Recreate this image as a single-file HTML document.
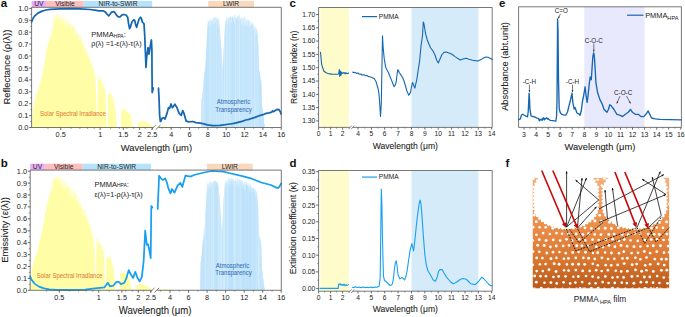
<!DOCTYPE html>
<html><head><meta charset="utf-8"><style>
html,body{margin:0;padding:0;background:#fff;width:685px;height:317px;overflow:hidden}
svg{display:block}
text{font-family:"Liberation Sans",sans-serif}
</style></head><body>
<svg width="685" height="317" viewBox="0 0 685 317" font-family="Liberation Sans, sans-serif"><rect x="31.6" y="0.9" width="14.5" height="6.4" fill="#eaabfd" />
<text x="38.8" y="6.3" font-size="6.7" text-anchor="middle" fill="#222" >UV</text>
<rect x="46.1" y="0.9" width="37.7" height="6.4" fill="#fdbebe" />
<text x="65" y="6.3" font-size="6.7" text-anchor="middle" fill="#222" >Visible</text>
<rect x="83.8" y="0.9" width="68.4" height="6.4" fill="#b5e3fe" />
<text x="118" y="6.3" font-size="6.7" text-anchor="middle" fill="#222" >NIR-to-SWIR</text>
<rect x="208.2" y="0.9" width="45.8" height="6.4" fill="#fad8bd" />
<text x="231.1" y="6.3" font-size="6.7" text-anchor="middle" fill="#222" >LWIR</text>
<path d="M29.6 127.5 L30.6 127.5 L31.3 126.3 L32 125.1 L32.7 115.4 L33.4 106.1 L34 103.5 L34.5 101.4 L35.1 99.1 L35.6 95.9 L36.2 94 L36.7 93.5 L37.3 90.7 L37.9 88.9 L38.4 88.6 L38.9 85.8 L39.4 84.8 L39.9 82.2 L40.4 80.2 L41 76.6 L41.6 75.4 L42.1 73.7 L42.7 70.4 L43.2 68.7 L43.8 65.3 L44.3 60.2 L44.9 59.3 L45.4 55.6 L46 51.3 L46.5 47.1 L47.1 48 L47.7 44 L48.3 42.7 L48.8 41 L49.4 38.1 L49.9 36.9 L50.5 32.3 L51 32.1 L51.6 28.2 L52.1 28.5 L52.8 25.1 L53.4 17.7 L54 14.7 L54.6 14.6 L55.1 18.2 L55.6 14.6 L56.1 15.1 L56.7 12.6 L57.2 13.2 L57.7 12.8 L58.3 12.8 L58.9 14.4 L59.4 14.6 L60 16.6 L60.5 15.7 L61 17.4 L61.5 17.2 L62 18.3 L62.5 16.8 L63 14.3 L63.5 18.4 L64 19.3 L64.5 19.5 L65.1 18.1 L65.6 19.4 L66.1 17.2 L66.6 21.1 L67.2 20.2 L67.7 19.2 L68.2 18.6 L68.8 23.4 L69.4 24.7 L70 20.5 L70.5 24.9 L71.1 23.4 L71.6 22.7 L72.1 24 L72.7 27 L73.2 28.2 L73.7 24.6 L74.2 28 L74.7 25.8 L75.2 29.7 L75.8 28.7 L76.3 32.2 L76.9 33.5 L77.4 32.1 L78 35.3 L78.5 32.9 L79 32.6 L79.6 35.9 L80.1 34.2 L80.7 35.8 L81.2 37.6 L81.7 39.3 L82.2 38.2 L82.7 38.6 L83.3 44.1 L84 43.8 L84.6 48.4 L85.3 48.7 L86 47.2 L86.6 48.9 L87.2 50.6 L87.7 52.4 L88.3 53.6 L88.8 54.9 L89.4 56.5 L89.9 59.1 L90.5 59 L91.1 60.3 L91.6 62.7 L92.1 62.8 L92.7 64.7 L93.2 68.4 L93.7 68.7 L94.2 70.5 L95.1 73.8 L96.1 91.6 L96.7 118 L97.6 112.9 L98.2 75.4 L99 75.1 L99.6 75 L100.2 77.8 L100.8 78.6 L101.3 80.3 L101.9 80.7 L102.4 82.7 L103 84 L103.5 83.6 L104 84.9 L104.5 87.4 L105 89.1 L105.6 97.4 L106.1 118 L106.4 127.5 L107 127.5 L107.7 127.5 L108 93.1 L108.5 92.8 L109.1 93 L109.6 93.1 L110.1 93.3 L110.6 93.9 L111.2 93.5 L111.7 93.8 L112.2 94.6 L112.7 95.4 L113.3 98.2 L113.8 100.4 L114.4 103.1 L115 106.2 L115.6 109.9 L116.2 121.5 L116.7 127.5 L117.2 127.5 L117.8 127.5 L118.3 127.5 L118.9 127.5 L119.4 127.5 L119.9 127.5 L120.5 127.5 L121 127.5 L121.6 109.4 L122.2 109.1 L122.8 109 L123.4 108.9 L124 108.1 L124.6 108.8 L125.2 109.2 L125.8 110.2 L126.4 110.3 L127 111.1 L127.6 111.2 L128.2 111.9 L128.8 112.7 L129.4 113.5 L130 113.8 L130.7 115.7 L131.4 117.8 L132.3 126.3 L132.9 126.4 L133.4 126.5 L134 126.7 L134.5 126.8 L135.1 126.9 L135.6 127 L136.1 127.1 L136.6 127.3 L137.2 127.4 L137.7 127.5 L138.3 122.7 L138.8 122.4 L139.4 122.1 L140 121.7 L140.6 121.4 L141.1 120.9 L141.7 120.8 L142.3 121 L142.9 121 L143.4 121.2 L144 121.5 L144.6 121.6 L145.1 121.8 L145.7 122.1 L146.2 122.3 L146.8 122.6 L147.3 122.9 L147.9 123.1 L148.4 123.4 L148.9 123.7 L149.5 124 L150.1 124.4 L150.7 124.8 L151.3 125.1 L151.9 125.7 L152.4 127.5 L152.4 127.5 Z" fill="#fffed2" stroke="none" />
<path d="M29.6 127.5 L30.6 127.5 L31.3 126.3 L32 125.1 L32.7 116.4 L33.4 107.8 L34 104.5 L34.5 101.6 L35.1 99.8 L35.6 99 L36.2 95.6 L36.7 94.2 L37.3 92.7 L37.9 91 L38.4 89.2 L38.9 89.7 L39.4 84.7 L39.9 82.3 L40.4 84.4 L41 81.9 L41.6 80.3 L42.1 75.1 L42.7 75.8 L43.2 73.5 L43.8 66.2 L44.3 66.5 L44.9 64.2 L45.4 60 L46 56 L46.5 51.2 L47.1 49.3 L47.7 46 L48.3 42.3 L48.8 44.6 L49.4 39.8 L49.9 42.5 L50.5 33.2 L51 39.4 L51.6 35.3 L52.1 35.6 L52.8 32.5 L53.4 29.6 L54 23.1 L54.6 16.3 L55.1 23.9 L55.6 16.9 L56.1 17.7 L56.7 21.3 L57.2 19.2 L57.7 18.1 L58.3 24.3 L58.9 20.8 L59.4 18 L60 17.2 L60.5 24.4 L61 20.3 L61.5 24 L62 19.5 L62.5 18 L63 22.1 L63.5 25.5 L64 18.6 L64.5 26 L65.1 27.9 L65.6 27.1 L66.1 27.7 L66.6 19.4 L67.2 26.6 L67.7 29.6 L68.2 21.4 L68.8 24.4 L69.4 24.9 L70 28.2 L70.5 27.7 L71.1 28.8 L71.6 32.5 L72.1 25.1 L72.7 26.2 L73.2 27.5 L73.7 28.1 L74.2 28.1 L74.7 37.7 L75.2 37.1 L75.8 30.3 L76.3 35.2 L76.9 34.2 L77.4 35.1 L78 36.2 L78.5 39.8 L79 40.1 L79.6 38.8 L80.1 38 L80.7 40.1 L81.2 39.1 L81.7 43.8 L82.2 46 L82.7 43.9 L83.3 43.2 L84 46 L84.6 49.5 L85.3 52 L86 53.9 L86.6 52.1 L87.2 56.7 L87.7 56.6 L88.3 56.5 L88.8 57.4 L89.4 59.6 L89.9 62.4 L90.5 61.9 L91.1 65.2 L91.6 65 L92.1 65.2 L92.7 68.7 L93.2 71.2 L93.7 69.1 L94.2 72.8 L95.1 77.3 L96.1 94.9 L96.7 118.9 L97.6 113.7 L98.2 79.8 L99 78.9 L99.6 77.5 L100.2 79.8 L100.8 79.3 L101.3 83.7 L101.9 84.1 L102.4 86.3 L103 86.9 L103.5 87.5 L104 88.9 L104.5 89.3 L105 88.6 L105.6 99.5 L106.1 118 L106.4 127.5 L107 127.5 L107.7 127.5 L108 93.5 L108.5 95.8 L109.1 93.4 L109.6 93.7 L110.1 93.9 L110.6 96.7 L111.2 94.5 L111.7 94.1 L112.2 97 L112.7 96.5 L113.3 100.6 L113.8 102 L114.4 105.3 L115 108.5 L115.6 110.7 L116.2 121.5 L116.7 127.5 L117.2 127.5 L117.8 127.5 L118.3 127.5 L118.9 127.5 L119.4 127.5 L119.9 127.5 L120.5 127.5 L121 127.5 L121.6 111.1 L122.2 109.4 L122.8 110.5 L123.4 109.7 L124 109.8 L124.6 109.1 L125.2 110.8 L125.8 111.5 L126.4 110.5 L127 111.4 L127.6 112.3 L128.2 113.3 L128.8 113 L129.4 113.5 L130 114.1 L130.7 116.6 L131.4 118.7 L132.3 126.3 L132.9 126.4 L133.4 126.5 L134 126.7 L134.5 126.8 L135.1 126.9 L135.6 127 L136.1 127.1 L136.6 127.3 L137.2 127.4 L137.7 127.5 L138.3 122.7 L138.8 122.4 L139.4 122.1 L140 121.7 L140.6 121.6 L141.1 121.3 L141.7 121 L142.3 121.1 L142.9 121.3 L143.4 121.3 L144 121.7 L144.6 121.6 L145.1 121.8 L145.7 122.1 L146.2 122.3 L146.8 122.6 L147.3 122.9 L147.9 123.1 L148.4 123.4 L148.9 123.7 L149.5 124 L150.1 124.4 L150.7 124.8 L151.3 125.1 L151.9 125.7 L152.4 127.5 L152.4 127.5 Z" fill="#fffea6" stroke="none" />
<path d="M152.4 127.5 L160.2 126.8 L164.8 126.5 L167.5 126.7 L170.3 126.5 L174 127 L176.7 127.5 Z" fill="#fffea6" stroke="none" />
<path d="M201 127.5 L201.6 100.1 L202.4 94.2 L203.1 87 L203.8 77.5 L204.4 73.7 L205.1 67.2 L206 57.1 L206.5 45.6 L207 33.5 L207.7 20.9 L208.2 20.5 L208.8 21.2 L209.3 22.3 L209.9 18.1 L210.4 17.5 L210.9 20.9 L211.5 21.6 L212 19.2 L212.5 18.6 L213 20 L213.5 17 L214 17.3 L214.5 16.8 L215 18.8 L215.5 17.1 L216 16.6 L216.5 18.9 L217 20.3 L217.7 16.9 L218.3 19.4 L218.9 18 L219.8 28.6 L220.5 37.8 L221.2 47.2 L221.8 57.2 L222.4 66.8 L222.6 91.8 L222.7 68.2 L223.7 47.6 L224.2 36 L224.8 26.1 L225.4 21.5 L225.9 19.6 L226.5 15.9 L227 20.3 L227.5 17.2 L228 17.6 L228.5 16.6 L229 18.4 L229.6 18.1 L230.1 16.3 L230.6 15.9 L231.2 17.2 L231.7 18 L232.2 15.4 L232.8 17.3 L233.3 18.6 L233.9 15.8 L234.4 14.5 L234.9 14.5 L235.5 17.2 L236 17 L236.6 18.6 L237.2 18.1 L237.7 14.8 L238.3 14.6 L238.8 15.1 L239.4 14.8 L240 17.7 L240.5 18.8 L241 19.3 L241.6 16 L242.1 19.6 L242.6 16.8 L243.1 17.6 L243.7 19.6 L244.2 16.3 L244.7 16.6 L245.2 20.9 L245.8 18.2 L246.3 18.8 L246.8 20.3 L247.3 21.1 L247.8 17.7 L248.4 19.8 L248.9 20.6 L249.4 21.1 L249.9 19.9 L250.5 22.2 L251 24.4 L251.5 22 L252 23.4 L252.6 21.7 L253.1 23.1 L253.6 25.7 L254.1 23.4 L254.6 27.9 L255.2 28.5 L255.7 24.9 L256.2 29.7 L256.8 27.4 L257.3 29.9 L257.8 37.7 L258.3 43.7 L258.9 68.8 L259.4 71.3 L259.9 74.3 L260.4 75.5 L260.9 79.3 L261.4 82.4 L262 104.3 L264.7 127.5 Z" fill="#d8eefc" stroke="none" />
<clipPath id="atmc0"><path d="M201 127.5 L201.6 100.1 L202.4 94.2 L203.1 88.3 L203.8 79.9 L204.4 73.3 L205.1 70.6 L206 58.3 L206.5 49.5 L207 38 L207.7 25.8 L208.2 21.8 L208.8 26.1 L209.3 25.8 L209.9 21.2 L210.4 27.9 L210.9 25.4 L211.5 20 L212 27.7 L212.5 19.8 L213 21.5 L213.5 25.2 L214 23.9 L214.5 23.3 L215 24.1 L215.5 22.1 L216 20.6 L216.5 19.1 L217 17.9 L217.7 24.5 L218.3 25.1 L218.9 23.3 L219.8 33 L220.5 39.9 L221.2 49.6 L221.8 60.2 L222.4 72.6 L222.6 91.8 L222.7 68.2 L223.7 51.3 L224.2 39 L224.8 33.3 L225.4 25.3 L225.9 20.9 L226.5 21.3 L227 22.4 L227.5 24.5 L228 20 L228.5 24.7 L229 17.1 L229.6 18.4 L230.1 16.4 L230.6 16.6 L231.2 23.3 L231.7 22.8 L232.2 17.3 L232.8 17.3 L233.3 19.6 L233.9 22.9 L234.4 23.7 L234.9 23 L235.5 21.4 L236 16.9 L236.6 19.5 L237.2 17.5 L237.7 21 L238.3 21.5 L238.8 17.9 L239.4 18.4 L240 23.9 L240.5 16.6 L241 24.5 L241.6 25.7 L242.1 26.5 L242.6 21.1 L243.1 23 L243.7 23.5 L244.2 24.3 L244.7 27.9 L245.2 25.2 L245.8 21.7 L246.3 27.4 L246.8 24 L247.3 25.4 L247.8 26.9 L248.4 20.2 L248.9 27.8 L249.4 27 L249.9 25.7 L250.5 26.2 L251 25.9 L251.5 23.9 L252 27.6 L252.6 23.5 L253.1 28.4 L253.6 30.3 L254.1 29 L254.6 30.6 L255.2 34.7 L255.7 34.6 L256.2 28.2 L256.8 34.7 L257.3 33.6 L257.8 36.5 L258.3 46.8 L258.9 69.2 L259.4 71 L259.9 75.8 L260.4 80.1 L260.9 79.9 L261.4 84.7 L262 104.3 L264.7 127.5 Z"/></clipPath>
<path d="M201 127.5 L201.6 100.1 L202.4 94.2 L203.1 88.3 L203.8 79.9 L204.4 73.3 L205.1 70.6 L206 58.3 L206.5 49.5 L207 38 L207.7 25.8 L208.2 21.8 L208.8 26.1 L209.3 25.8 L209.9 21.2 L210.4 27.9 L210.9 25.4 L211.5 20 L212 27.7 L212.5 19.8 L213 21.5 L213.5 25.2 L214 23.9 L214.5 23.3 L215 24.1 L215.5 22.1 L216 20.6 L216.5 19.1 L217 17.9 L217.7 24.5 L218.3 25.1 L218.9 23.3 L219.8 33 L220.5 39.9 L221.2 49.6 L221.8 60.2 L222.4 72.6 L222.6 91.8 L222.7 68.2 L223.7 51.3 L224.2 39 L224.8 33.3 L225.4 25.3 L225.9 20.9 L226.5 21.3 L227 22.4 L227.5 24.5 L228 20 L228.5 24.7 L229 17.1 L229.6 18.4 L230.1 16.4 L230.6 16.6 L231.2 23.3 L231.7 22.8 L232.2 17.3 L232.8 17.3 L233.3 19.6 L233.9 22.9 L234.4 23.7 L234.9 23 L235.5 21.4 L236 16.9 L236.6 19.5 L237.2 17.5 L237.7 21 L238.3 21.5 L238.8 17.9 L239.4 18.4 L240 23.9 L240.5 16.6 L241 24.5 L241.6 25.7 L242.1 26.5 L242.6 21.1 L243.1 23 L243.7 23.5 L244.2 24.3 L244.7 27.9 L245.2 25.2 L245.8 21.7 L246.3 27.4 L246.8 24 L247.3 25.4 L247.8 26.9 L248.4 20.2 L248.9 27.8 L249.4 27 L249.9 25.7 L250.5 26.2 L251 25.9 L251.5 23.9 L252 27.6 L252.6 23.5 L253.1 28.4 L253.6 30.3 L254.1 29 L254.6 30.6 L255.2 34.7 L255.7 34.6 L256.2 28.2 L256.8 34.7 L257.3 33.6 L257.8 36.5 L258.3 46.8 L258.9 69.2 L259.4 71 L259.9 75.8 L260.4 80.1 L260.9 79.9 L261.4 84.7 L262 104.3 L264.7 127.5 Z" fill="#c3e5fb" stroke="none" />
<g clip-path="url(#atmc0)"><rect x="200.5" y="7.3" width="1.1" height="120.2" fill="#cbe8fc"/><rect x="202.6" y="7.3" width="1.2" height="120.2" fill="#d3ecfd"/><rect x="206.2" y="7.3" width="1.1" height="120.2" fill="#b9e0fa"/><rect x="210.4" y="7.3" width="0.6" height="120.2" fill="#d3ecfd"/><rect x="213.7" y="7.3" width="0.8" height="120.2" fill="#cbe8fc"/><rect x="216.4" y="7.3" width="0.5" height="120.2" fill="#d3ecfd"/><rect x="218.6" y="7.3" width="1.2" height="120.2" fill="#cbe8fc"/><rect x="221.5" y="7.3" width="0.9" height="120.2" fill="#d3ecfd"/><rect x="224.3" y="7.3" width="0.8" height="120.2" fill="#d8effd"/><rect x="226.6" y="7.3" width="0.9" height="120.2" fill="#d8effd"/><rect x="229.3" y="7.3" width="0.9" height="120.2" fill="#d3ecfd"/><rect x="232.5" y="7.3" width="0.8" height="120.2" fill="#b9e0fa"/><rect x="235.1" y="7.3" width="0.8" height="120.2" fill="#d8effd"/><rect x="237.1" y="7.3" width="0.4" height="120.2" fill="#cbe8fc"/><rect x="238.9" y="7.3" width="0.8" height="120.2" fill="#d8effd"/><rect x="241.6" y="7.3" width="0.6" height="120.2" fill="#d3ecfd"/><rect x="243.4" y="7.3" width="0.8" height="120.2" fill="#cbe8fc"/><rect x="246.4" y="7.3" width="0.5" height="120.2" fill="#cbe8fc"/><rect x="248.7" y="7.3" width="0.6" height="120.2" fill="#d3ecfd"/><rect x="250.9" y="7.3" width="0.7" height="120.2" fill="#d3ecfd"/><rect x="254" y="7.3" width="0.5" height="120.2" fill="#d8effd"/><rect x="255.3" y="7.3" width="0.9" height="120.2" fill="#cbe8fc"/><rect x="257.6" y="7.3" width="0.8" height="120.2" fill="#cbe8fc"/><rect x="259.5" y="7.3" width="1" height="120.2" fill="#b9e0fa"/><rect x="263.4" y="7.3" width="1" height="120.2" fill="#b9e0fa"/></g>
<text x="0" y="0" font-size="6.0" text-anchor="start" fill="#e27d38" stroke="#e27d38" stroke-width="0.05" transform="translate(40 116.2) scale(1 1.15)">Solar Spectral Irradiance</text>
<text x="0" y="0" font-size="6.0" text-anchor="middle" fill="#336fb3" stroke="#336fb3" stroke-width="0.05" transform="translate(233.5 103.8) scale(1 1.15)">Atmospheric</text>
<text x="0" y="0" font-size="6.0" text-anchor="middle" fill="#336fb3" stroke="#336fb3" stroke-width="0.05" transform="translate(233.5 111.5) scale(1 1.15)">Transparency</text>
<path d="M31.6 21.8 L33 18.5 L35 15.6 L38 13.1 L42 11.1 L46 10 L50 9.3 L60 8.8 L70 8.6 L80 8.8 L90 9.5 L95 10.2 L98.8 10.9 L103.5 10.9 L105.4 12.1 L107.3 14.5 L108.7 15.9 L110.2 14 L111.6 12.1 L113.9 11.6 L114.9 12.6 L116.3 14.9 L118.2 16.8 L120.1 16.8 L122 14.9 L124.4 14.5 L126.3 15.2 L127.7 17.3 L128.6 23.9 L129.6 28.7 L130.5 26.8 L131.9 22 L133.8 19.7 L134.8 20.6 L135.7 24.9 L136.7 27.3 L137.6 23.9 L139 19.2 L140.5 17.3 L141.4 18.3 L142.3 22 L143.3 23 L144 23.9 L144.7 35 L145.3 50 L146 67.5 L146.6 58 L148 47.6 L149 54 L150.5 45 L151.4 40 L151.9 50 L152 70 L152.2 92.5 L153.3 88" fill="none" stroke="#1667b2" stroke-width="1.75" stroke-linejoin="round" stroke-linecap="round" />
<path d="M158.5 88.2 L159.1 100 L159.6 115 L160.3 121.5 L161 121 L162 118.4 L163.5 117.7 L165 119 L167 113.4 L168.5 107.7 L169.6 108.4 L171 104 L172.4 107.7 L174.9 104.2 L177 107.7 L179.1 113.4 L181.2 115.5 L182.7 110.6 L184 113.4 L186.2 121.2 L189 121.9 L192.6 121.5 L196 122.6 L201.8 123.3 L207.5 124.8 L213 125.7 L220 125.3 L230 124 L234 123.4 L238 122.3 L242 121.3 L245.8 120 L249 119.4 L252 118.3 L255 117.4 L258.4 116 L262 114.8 L264 114.3 L266.3 113.4 L269 112.8 L271.8 112.1 L272.6 110.8 L273.4 111.6 L274.2 111.3 L276 110 L277.4 109.3 L279 109.7 L280.2 111.5 L281.1 114" fill="none" stroke="#1667b2" stroke-width="1.75" stroke-linejoin="round" stroke-linecap="round" />
<line x1="31.6" y1="7.3" x2="281.3" y2="7.3" stroke="#555" stroke-width="0.8" />
<line x1="281.3" y1="7.3" x2="281.3" y2="127.5" stroke="#555" stroke-width="0.8" />
<line x1="31.6" y1="7.3" x2="31.6" y2="127.5" stroke="#555" stroke-width="0.8" />
<line x1="31.6" y1="127.5" x2="152.8" y2="127.5" stroke="#555" stroke-width="0.8" />
<line x1="158.6" y1="127.5" x2="281.3" y2="127.5" stroke="#555" stroke-width="0.8" />
<line x1="151.2" y1="129.6" x2="155.8" y2="125.1" stroke="#555" stroke-width="0.8" />
<line x1="155.8" y1="129.6" x2="160.4" y2="125.1" stroke="#555" stroke-width="0.8" />
<line x1="29.2" y1="127.5" x2="31.6" y2="127.5" stroke="#555" stroke-width="0.9" />
<text x="28.4" y="130" font-size="7.3" text-anchor="end" fill="#222" >0.0</text>
<line x1="30.2" y1="121.5" x2="31.6" y2="121.5" stroke="#555" stroke-width="0.6" />
<line x1="29.2" y1="115.6" x2="31.6" y2="115.6" stroke="#555" stroke-width="0.9" />
<text x="28.4" y="118.1" font-size="7.3" text-anchor="end" fill="#222" >0.1</text>
<line x1="30.2" y1="109.6" x2="31.6" y2="109.6" stroke="#555" stroke-width="0.6" />
<line x1="29.2" y1="103.7" x2="31.6" y2="103.7" stroke="#555" stroke-width="0.9" />
<text x="28.4" y="106.2" font-size="7.3" text-anchor="end" fill="#222" >0.2</text>
<line x1="30.2" y1="97.7" x2="31.6" y2="97.7" stroke="#555" stroke-width="0.6" />
<line x1="29.2" y1="91.8" x2="31.6" y2="91.8" stroke="#555" stroke-width="0.9" />
<text x="28.4" y="94.3" font-size="7.3" text-anchor="end" fill="#222" >0.3</text>
<line x1="30.2" y1="85.8" x2="31.6" y2="85.8" stroke="#555" stroke-width="0.6" />
<line x1="29.2" y1="79.9" x2="31.6" y2="79.9" stroke="#555" stroke-width="0.9" />
<text x="28.4" y="82.4" font-size="7.3" text-anchor="end" fill="#222" >0.4</text>
<line x1="30.2" y1="73.9" x2="31.6" y2="73.9" stroke="#555" stroke-width="0.6" />
<line x1="29.2" y1="68" x2="31.6" y2="68" stroke="#555" stroke-width="0.9" />
<text x="28.4" y="70.5" font-size="7.3" text-anchor="end" fill="#222" >0.5</text>
<line x1="30.2" y1="62" x2="31.6" y2="62" stroke="#555" stroke-width="0.6" />
<line x1="29.2" y1="56" x2="31.6" y2="56" stroke="#555" stroke-width="0.9" />
<text x="28.4" y="58.5" font-size="7.3" text-anchor="end" fill="#222" >0.6</text>
<line x1="30.2" y1="50.1" x2="31.6" y2="50.1" stroke="#555" stroke-width="0.6" />
<line x1="29.2" y1="44.1" x2="31.6" y2="44.1" stroke="#555" stroke-width="0.9" />
<text x="28.4" y="46.6" font-size="7.3" text-anchor="end" fill="#222" >0.7</text>
<line x1="30.2" y1="38.2" x2="31.6" y2="38.2" stroke="#555" stroke-width="0.6" />
<line x1="29.2" y1="32.2" x2="31.6" y2="32.2" stroke="#555" stroke-width="0.9" />
<text x="28.4" y="34.7" font-size="7.3" text-anchor="end" fill="#222" >0.8</text>
<line x1="30.2" y1="26.3" x2="31.6" y2="26.3" stroke="#555" stroke-width="0.6" />
<line x1="29.2" y1="20.3" x2="31.6" y2="20.3" stroke="#555" stroke-width="0.9" />
<text x="28.4" y="22.8" font-size="7.3" text-anchor="end" fill="#222" >0.9</text>
<line x1="30.2" y1="14.4" x2="31.6" y2="14.4" stroke="#555" stroke-width="0.6" />
<line x1="29.2" y1="8.4" x2="31.6" y2="8.4" stroke="#555" stroke-width="0.9" />
<text x="28.4" y="10.9" font-size="7.3" text-anchor="end" fill="#222" >1.0</text>
<line x1="60.7" y1="127.5" x2="60.7" y2="129.9" stroke="#555" stroke-width="0.9" />
<text x="60.7" y="137.1" font-size="7.3" text-anchor="middle" fill="#222" >0.5</text>
<line x1="100.2" y1="127.5" x2="100.2" y2="129.9" stroke="#555" stroke-width="0.9" />
<text x="100.2" y="137.1" font-size="7.3" text-anchor="middle" fill="#222" >1</text>
<line x1="123.3" y1="127.5" x2="123.3" y2="129.9" stroke="#555" stroke-width="0.9" />
<text x="123.3" y="137.1" font-size="7.3" text-anchor="middle" fill="#222" >1.5</text>
<line x1="139.7" y1="127.5" x2="139.7" y2="129.9" stroke="#555" stroke-width="0.9" />
<text x="139.7" y="137.1" font-size="7.3" text-anchor="middle" fill="#222" >2</text>
<line x1="152.2" y1="127.5" x2="152.2" y2="129.9" stroke="#555" stroke-width="0.9" />
<text x="152.2" y="137.1" font-size="7.3" text-anchor="middle" fill="#222" >2.5</text>
<line x1="171.2" y1="127.5" x2="171.2" y2="129.9" stroke="#555" stroke-width="0.9" />
<text x="171.2" y="137.1" font-size="7.3" text-anchor="middle" fill="#222" >4</text>
<line x1="189.5" y1="127.5" x2="189.5" y2="129.9" stroke="#555" stroke-width="0.9" />
<text x="189.5" y="137.1" font-size="7.3" text-anchor="middle" fill="#222" >6</text>
<line x1="207.9" y1="127.5" x2="207.9" y2="129.9" stroke="#555" stroke-width="0.9" />
<text x="207.9" y="137.1" font-size="7.3" text-anchor="middle" fill="#222" >8</text>
<line x1="226.2" y1="127.5" x2="226.2" y2="129.9" stroke="#555" stroke-width="0.9" />
<text x="226.2" y="137.1" font-size="7.3" text-anchor="middle" fill="#222" >10</text>
<line x1="244.6" y1="127.5" x2="244.6" y2="129.9" stroke="#555" stroke-width="0.9" />
<text x="244.6" y="137.1" font-size="7.3" text-anchor="middle" fill="#222" >12</text>
<line x1="262.9" y1="127.5" x2="262.9" y2="129.9" stroke="#555" stroke-width="0.9" />
<text x="262.9" y="137.1" font-size="7.3" text-anchor="middle" fill="#222" >14</text>
<line x1="281.2" y1="127.5" x2="281.2" y2="129.9" stroke="#555" stroke-width="0.9" />
<text x="281.2" y="137.1" font-size="7.3" text-anchor="middle" fill="#222" >16</text>
<line x1="48" y1="127.5" x2="48" y2="128.9" stroke="#555" stroke-width="0.6" />
<line x1="71.1" y1="127.5" x2="71.1" y2="128.9" stroke="#555" stroke-width="0.6" />
<line x1="79.9" y1="127.5" x2="79.9" y2="128.9" stroke="#555" stroke-width="0.6" />
<line x1="87.5" y1="127.5" x2="87.5" y2="128.9" stroke="#555" stroke-width="0.6" />
<line x1="94.2" y1="127.5" x2="94.2" y2="128.9" stroke="#555" stroke-width="0.6" />
<line x1="110.6" y1="127.5" x2="110.6" y2="128.9" stroke="#555" stroke-width="0.6" />
<line x1="119.4" y1="127.5" x2="119.4" y2="128.9" stroke="#555" stroke-width="0.6" />
<line x1="127" y1="127.5" x2="127" y2="128.9" stroke="#555" stroke-width="0.6" />
<line x1="133.7" y1="127.5" x2="133.7" y2="128.9" stroke="#555" stroke-width="0.6" />
<line x1="145.1" y1="127.5" x2="145.1" y2="128.9" stroke="#555" stroke-width="0.6" />
<line x1="162" y1="127.5" x2="162" y2="128.9" stroke="#555" stroke-width="0.6" />
<line x1="180.4" y1="127.5" x2="180.4" y2="128.9" stroke="#555" stroke-width="0.6" />
<line x1="198.7" y1="127.5" x2="198.7" y2="128.9" stroke="#555" stroke-width="0.6" />
<line x1="217" y1="127.5" x2="217" y2="128.9" stroke="#555" stroke-width="0.6" />
<line x1="235.4" y1="127.5" x2="235.4" y2="128.9" stroke="#555" stroke-width="0.6" />
<line x1="253.7" y1="127.5" x2="253.7" y2="128.9" stroke="#555" stroke-width="0.6" />
<line x1="272.1" y1="127.5" x2="272.1" y2="128.9" stroke="#555" stroke-width="0.6" />
<text x="0" y="0" font-size="9.4" text-anchor="middle" fill="#222" stroke="#222" stroke-width="0.08" transform="translate(156.4 151.1) scale(1 1.05)">Wavelength (μm)</text>
<text x="0" y="0" font-size="9.4" text-anchor="middle" fill="#222" stroke="#222" stroke-width="0.08" transform="translate(10 67.1) rotate(-90) scale(1 1.05)">Reflectance (ρ(λ))</text>
<text x="91.3" y="36.9" font-size="7.5" fill="#222">PMMA<tspan font-size="5.0" dy="0.6">HPA</tspan><tspan dy="-0.6">:</tspan></text>
<text x="91.3" y="46.2" font-size="7.2" text-anchor="start" fill="#222" >ρ(λ) =1-ε(λ)-τ(λ)</text>
<rect x="30.2" y="163.7" width="14.6" height="6.4" fill="#eaabfd" />
<text x="37.5" y="169.1" font-size="6.7" text-anchor="middle" fill="#222" >UV</text>
<rect x="44.8" y="163.7" width="37.7" height="6.4" fill="#fdbebe" />
<text x="63.7" y="169.1" font-size="6.7" text-anchor="middle" fill="#222" >Visible</text>
<rect x="82.5" y="163.7" width="68.4" height="6.4" fill="#b5e3fe" />
<text x="116.7" y="169.1" font-size="6.7" text-anchor="middle" fill="#222" >NIR-to-SWIR</text>
<rect x="206.9" y="163.7" width="45.8" height="6.4" fill="#fad8bd" />
<text x="229.8" y="169.1" font-size="6.7" text-anchor="middle" fill="#222" >LWIR</text>
<path d="M28.2 290.3 L29.2 290.3 L29.9 289.1 L30.6 287.9 L31.3 278.6 L32 268.8 L32.6 267 L33.1 263.8 L33.7 261.4 L34.2 259 L34.8 258.1 L35.3 256 L35.9 253.7 L36.5 251.4 L37 250.8 L37.5 249.6 L38 247 L38.5 243.9 L39 241.5 L39.6 239.3 L40.2 237 L40.7 234.2 L41.3 231.9 L41.8 231.2 L42.4 228.8 L42.9 223.4 L43.5 222.9 L44 218 L44.6 216 L45.1 213.3 L45.7 211.1 L46.3 205 L46.9 203.7 L47.4 202.6 L48 202 L48.5 195.9 L49.1 194.6 L49.6 195.1 L50.2 189.3 L50.7 188.5 L51.4 185 L52 183.7 L52.6 181.9 L53.2 177.1 L53.7 179.7 L54.2 179.1 L54.7 179.1 L55.3 176.9 L55.8 178.4 L56.3 175.4 L56.9 176 L57.5 175.1 L58 178.5 L58.6 177 L59.1 176.2 L59.6 175.9 L60.1 179.3 L60.6 178.9 L61.1 179.8 L61.6 178.3 L62.1 179.2 L62.6 177.6 L63.1 181.2 L63.7 177.9 L64.2 180.9 L64.7 183 L65.2 183 L65.8 180.4 L66.3 181.7 L66.8 185.5 L67.4 185.1 L68 186.9 L68.6 187.4 L69.1 185.8 L69.7 188.7 L70.2 188.5 L70.7 187 L71.3 187.8 L71.8 186.9 L72.3 189.2 L72.8 192.5 L73.3 188.9 L73.8 191.8 L74.4 190.4 L74.9 191.1 L75.5 194.7 L76 193.6 L76.6 193.6 L77.1 194.9 L77.6 198.1 L78.2 198.6 L78.7 196.9 L79.3 198.7 L79.8 202.9 L80.3 200.4 L80.8 202.8 L81.3 203 L81.9 206.5 L82.6 207.8 L83.2 210.5 L83.9 210 L84.6 209.3 L85.2 210.6 L85.8 211.7 L86.3 215.9 L86.9 214.6 L87.4 215.7 L88 220.5 L88.5 219.3 L89.1 223.2 L89.7 221.9 L90.2 224.7 L90.7 225.6 L91.3 229.2 L91.8 230.1 L92.3 231.9 L92.8 233.9 L93.7 238.9 L94.7 254.3 L95.3 280.8 L96.2 276 L96.8 236.9 L97.6 238.4 L98.2 239.2 L98.8 241.1 L99.4 240.8 L99.9 242.8 L100.5 243.8 L101 245.6 L101.6 245.3 L102.1 247.1 L102.6 248.6 L103.1 248.9 L103.6 251.1 L104.2 260.9 L104.7 280.7 L105 290.3 L105.6 290.3 L106.3 290.3 L106.6 256 L107.1 256.1 L107.7 255.6 L108.2 256 L108.7 257.2 L109.2 256.2 L109.8 256.5 L110.3 256.1 L110.8 256.5 L111.3 258.4 L111.9 261.6 L112.4 263.2 L113 266.5 L113.6 269.8 L114.2 272.5 L114.8 284.3 L115.3 290.3 L115.8 290.3 L116.4 290.3 L116.9 290.3 L117.5 290.3 L118 290.3 L118.5 290.3 L119.1 290.3 L119.6 290.3 L120.2 272.8 L120.8 272.2 L121.4 271.8 L122 272 L122.6 271.6 L123.2 272.1 L123.8 272.2 L124.4 272.9 L125 273.1 L125.6 274 L126.2 274.6 L126.8 274.7 L127.4 275.7 L128 275.8 L128.6 276.3 L129.3 278.8 L130 280.7 L130.9 289.1 L131.5 289.2 L132 289.3 L132.6 289.5 L133.1 289.6 L133.7 289.7 L134.2 289.8 L134.7 289.9 L135.2 290.1 L135.8 290.2 L136.3 290.3 L136.9 285.5 L137.4 285.2 L138 284.9 L138.6 284.5 L139.2 284.2 L139.7 283.9 L140.3 283.4 L140.9 283.8 L141.5 283.8 L142 284 L142.6 284.2 L143.2 284.4 L143.7 284.6 L144.3 284.9 L144.8 285.1 L145.4 285.4 L145.9 285.7 L146.5 285.9 L147 286.2 L147.5 286.5 L148.1 286.8 L148.7 287.2 L149.3 287.6 L149.9 287.9 L150.5 288.5 L151 290.3 L151 290.3 Z" fill="#fffed2" stroke="none" />
<path d="M28.2 290.3 L29.2 290.3 L29.9 289.1 L30.6 287.9 L31.3 279.3 L32 270.5 L32.6 267.2 L33.1 264.4 L33.7 262.6 L34.2 260.6 L34.8 257.8 L35.3 256.3 L35.9 256.7 L36.5 254.9 L37 254.3 L37.5 252.7 L38 250.6 L38.5 246.7 L39 243.4 L39.6 241.8 L40.2 240.3 L40.7 238.4 L41.3 236.2 L41.8 232.9 L42.4 232.9 L42.9 226.3 L43.5 224.4 L44 224.5 L44.6 221 L45.1 214 L45.7 211.3 L46.3 213.7 L46.9 204.6 L47.4 203.3 L48 204.8 L48.5 202.8 L49.1 197.2 L49.6 193.9 L50.2 193.3 L50.7 196.9 L51.4 190.8 L52 193.2 L52.6 188.2 L53.2 189.8 L53.7 178.7 L54.2 179.8 L54.7 177.3 L55.3 181.5 L55.8 179.8 L56.3 176.8 L56.9 182.7 L57.5 177.7 L58 180.4 L58.6 180 L59.1 186.5 L59.6 182.5 L60.1 181 L60.6 178.8 L61.1 183.4 L61.6 185.9 L62.1 186.7 L62.6 189.6 L63.1 189 L63.7 183.3 L64.2 182.6 L64.7 189.8 L65.2 190.6 L65.8 188.1 L66.3 192 L66.8 189.6 L67.4 187.3 L68 186.7 L68.6 185.7 L69.1 192.8 L69.7 196 L70.2 196.6 L70.7 192.7 L71.3 195.2 L71.8 198.5 L72.3 197.9 L72.8 196.3 L73.3 195 L73.8 196.6 L74.4 194 L74.9 194.9 L75.5 200.6 L76 204.3 L76.6 200.9 L77.1 200.4 L77.6 200.7 L78.2 202.4 L78.7 206.4 L79.3 204 L79.8 209.4 L80.3 203 L80.8 205.3 L81.3 207.9 L81.9 208.8 L82.6 214.4 L83.2 216 L83.9 217.4 L84.6 215.4 L85.2 212.1 L85.8 217.7 L86.3 218.8 L86.9 219.7 L87.4 219.5 L88 223.9 L88.5 226.7 L89.1 222.5 L89.7 227.8 L90.2 227.2 L90.7 229.7 L91.3 233.7 L91.8 235.6 L92.3 235.3 L92.8 234.2 L93.7 242.7 L94.7 255.2 L95.3 281.1 L96.2 277.2 L96.8 239.6 L97.6 239 L98.2 243.8 L98.8 245 L99.4 243 L99.9 244.5 L100.5 245.2 L101 245.6 L101.6 247.3 L102.1 251.6 L102.6 248.9 L103.1 250.7 L103.6 251.8 L104.2 260.8 L104.7 281.3 L105 290.3 L105.6 290.3 L106.3 290.3 L106.6 258.3 L107.1 258.8 L107.7 258.2 L108.2 259 L108.7 256.4 L109.2 257.5 L109.8 259.9 L110.3 257 L110.8 257.8 L111.3 260.5 L111.9 261.7 L112.4 264.4 L113 266.2 L113.6 269.8 L114.2 274.1 L114.8 284.3 L115.3 290.3 L115.8 290.3 L116.4 290.3 L116.9 290.3 L117.5 290.3 L118 290.3 L118.5 290.3 L119.1 290.3 L119.6 290.3 L120.2 272.7 L120.8 273.8 L121.4 272.2 L122 273.4 L122.6 272.5 L123.2 272.9 L123.8 272.5 L124.4 272.8 L125 274.5 L125.6 273.9 L126.2 274.5 L126.8 276.1 L127.4 276.7 L128 276.1 L128.6 277.9 L129.3 279.3 L130 281.1 L130.9 289.1 L131.5 289.2 L132 289.3 L132.6 289.5 L133.1 289.6 L133.7 289.7 L134.2 289.8 L134.7 289.9 L135.2 290.1 L135.8 290.2 L136.3 290.3 L136.9 285.5 L137.4 285.2 L138 284.9 L138.6 284.5 L139.2 284.3 L139.7 284.1 L140.3 284.2 L140.9 283.9 L141.5 284 L142 284.1 L142.6 284.3 L143.2 284.4 L143.7 284.6 L144.3 284.9 L144.8 285.1 L145.4 285.4 L145.9 285.7 L146.5 285.9 L147 286.2 L147.5 286.5 L148.1 286.8 L148.7 287.2 L149.3 287.6 L149.9 287.9 L150.5 288.5 L151 290.3 L151 290.3 Z" fill="#fffea6" stroke="none" />
<path d="M151 290.3 L158.9 289.6 L163.5 289.3 L166.3 289.5 L169.1 289.3 L172.8 289.8 L175.6 290.3 Z" fill="#fffea6" stroke="none" />
<path d="M200.1 290.3 L200.7 262.9 L201.5 257 L202.2 248.5 L202.9 241.6 L203.6 234.6 L204.3 230.1 L205.1 220.8 L205.6 209.4 L206.2 197.8 L206.9 182.3 L207.4 182.6 L208 185.6 L208.5 182.9 L209.1 183.9 L209.6 181.5 L210.2 179.7 L210.7 181.2 L211.3 183.2 L211.8 183.3 L212.3 182 L212.8 181.3 L213.3 181.6 L213.8 180.9 L214.3 181.3 L214.8 182.8 L215.3 179.2 L215.8 181.2 L216.3 183 L217 182.7 L217.6 179.3 L218.2 183.8 L219.1 191.3 L219.8 198.7 L220.5 210 L221.1 219.9 L221.7 229.7 L221.9 254.6 L222.1 232.5 L223 210.5 L223.6 201.9 L224.2 187.6 L224.8 182.7 L225.3 183 L225.9 182.3 L226.4 183.1 L226.9 181.1 L227.4 180 L227.9 181.1 L228.5 177 L229 179.3 L229.5 178.5 L230 176.8 L230.5 179.3 L231 177.8 L231.5 178.8 L232 178.1 L232.5 177.8 L233 178 L233.5 179.4 L234 181.5 L234.5 181.2 L235 180.8 L235.5 180.7 L236.1 177.7 L236.7 181.6 L237.2 177.8 L237.8 177 L238.4 179.2 L239 180.6 L239.5 178.5 L240.1 180.4 L240.6 178.7 L241.1 182.7 L241.6 180.1 L242.2 180.5 L242.7 181 L243.2 183.2 L243.8 184 L244.3 181.8 L244.8 181.5 L245.4 182.7 L245.9 180 L246.4 182.2 L247 184.8 L247.5 184.7 L248 181.1 L248.5 185.6 L249.1 183.4 L249.6 186.8 L250.1 183.8 L250.6 183.3 L251.2 185.6 L251.7 188 L252.2 186.1 L252.8 189 L253.3 188.7 L253.8 187.5 L254.4 187.7 L254.9 189.3 L255.4 189.3 L256 189.7 L256.5 191.6 L257 193.2 L257.6 199.7 L258.1 205.9 L258.6 230.2 L259.1 233.3 L259.7 236.6 L260.2 237.9 L260.7 240.4 L261.2 243.7 L261.8 267.1 L264.6 290.3 Z" fill="#d8eefc" stroke="none" />
<clipPath id="atmc162"><path d="M200.1 290.3 L200.7 262.9 L201.5 257 L202.2 249.7 L202.9 240.4 L203.6 238.2 L204.3 235.7 L205.1 222.3 L205.6 212.5 L206.2 202.1 L206.9 191.2 L207.4 191.7 L208 186.9 L208.5 189.1 L209.1 183.4 L209.6 190.6 L210.2 185.5 L210.7 186.2 L211.3 190.1 L211.8 184 L212.3 182.9 L212.8 189 L213.3 186.7 L213.8 181.5 L214.3 180.8 L214.8 183.9 L215.3 180.3 L215.8 188.4 L216.3 181.8 L217 183 L217.6 184.3 L218.2 185.8 L219.1 193 L219.8 204.9 L220.5 215.2 L221.1 223.4 L221.7 231.3 L221.9 254.6 L222.1 236 L223 215.5 L223.6 200.5 L224.2 193.1 L224.8 191.9 L225.3 190.2 L225.9 180.8 L226.4 179.9 L226.9 184.3 L227.4 183.5 L227.9 188 L228.5 187.1 L229 181.8 L229.5 182.5 L230 184.1 L230.5 187.1 L231 180.3 L231.5 182.2 L232 179.1 L232.5 184.7 L233 178.5 L233.5 187.7 L234 183.5 L234.5 184 L235 179.1 L235.5 180.6 L236.1 183 L236.7 187 L237.2 183.9 L237.8 181.4 L238.4 188.5 L239 185.4 L239.5 184.1 L240.1 181.1 L240.6 182.3 L241.1 188.5 L241.6 181.1 L242.2 185.3 L242.7 186.5 L243.2 184.1 L243.8 188.4 L244.3 190 L244.8 189.7 L245.4 188.8 L245.9 183.8 L246.4 182.7 L247 186.6 L247.5 185.7 L248 184.8 L248.5 191.6 L249.1 185.6 L249.6 191.6 L250.1 193 L250.6 185.4 L251.2 193.5 L251.7 189.2 L252.2 188 L252.8 188.3 L253.3 187.5 L253.8 192.3 L254.4 191.8 L254.9 196.5 L255.4 196.9 L256 190.3 L256.5 193.9 L257 194.3 L257.6 200.4 L258.1 208.8 L258.6 232.2 L259.1 236.9 L259.7 237.7 L260.2 239.1 L260.7 242.2 L261.2 245.7 L261.8 267.1 L264.6 290.3 Z"/></clipPath>
<path d="M200.1 290.3 L200.7 262.9 L201.5 257 L202.2 249.7 L202.9 240.4 L203.6 238.2 L204.3 235.7 L205.1 222.3 L205.6 212.5 L206.2 202.1 L206.9 191.2 L207.4 191.7 L208 186.9 L208.5 189.1 L209.1 183.4 L209.6 190.6 L210.2 185.5 L210.7 186.2 L211.3 190.1 L211.8 184 L212.3 182.9 L212.8 189 L213.3 186.7 L213.8 181.5 L214.3 180.8 L214.8 183.9 L215.3 180.3 L215.8 188.4 L216.3 181.8 L217 183 L217.6 184.3 L218.2 185.8 L219.1 193 L219.8 204.9 L220.5 215.2 L221.1 223.4 L221.7 231.3 L221.9 254.6 L222.1 236 L223 215.5 L223.6 200.5 L224.2 193.1 L224.8 191.9 L225.3 190.2 L225.9 180.8 L226.4 179.9 L226.9 184.3 L227.4 183.5 L227.9 188 L228.5 187.1 L229 181.8 L229.5 182.5 L230 184.1 L230.5 187.1 L231 180.3 L231.5 182.2 L232 179.1 L232.5 184.7 L233 178.5 L233.5 187.7 L234 183.5 L234.5 184 L235 179.1 L235.5 180.6 L236.1 183 L236.7 187 L237.2 183.9 L237.8 181.4 L238.4 188.5 L239 185.4 L239.5 184.1 L240.1 181.1 L240.6 182.3 L241.1 188.5 L241.6 181.1 L242.2 185.3 L242.7 186.5 L243.2 184.1 L243.8 188.4 L244.3 190 L244.8 189.7 L245.4 188.8 L245.9 183.8 L246.4 182.7 L247 186.6 L247.5 185.7 L248 184.8 L248.5 191.6 L249.1 185.6 L249.6 191.6 L250.1 193 L250.6 185.4 L251.2 193.5 L251.7 189.2 L252.2 188 L252.8 188.3 L253.3 187.5 L253.8 192.3 L254.4 191.8 L254.9 196.5 L255.4 196.9 L256 190.3 L256.5 193.9 L257 194.3 L257.6 200.4 L258.1 208.8 L258.6 232.2 L259.1 236.9 L259.7 237.7 L260.2 239.1 L260.7 242.2 L261.2 245.7 L261.8 267.1 L264.6 290.3 Z" fill="#c3e5fb" stroke="none" />
<g clip-path="url(#atmc162)"><rect x="199.7" y="170.1" width="1" height="120.2" fill="#cbe8fc"/><rect x="202.5" y="170.1" width="0.6" height="120.2" fill="#b9e0fa"/><rect x="205.2" y="170.1" width="0.6" height="120.2" fill="#d8effd"/><rect x="207.9" y="170.1" width="0.8" height="120.2" fill="#cbe8fc"/><rect x="210.9" y="170.1" width="0.8" height="120.2" fill="#d3ecfd"/><rect x="212.8" y="170.1" width="0.9" height="120.2" fill="#d8effd"/><rect x="215.6" y="170.1" width="1" height="120.2" fill="#b9e0fa"/><rect x="218.5" y="170.1" width="0.8" height="120.2" fill="#d8effd"/><rect x="220.6" y="170.1" width="1.2" height="120.2" fill="#d8effd"/><rect x="223.4" y="170.1" width="1.4" height="120.2" fill="#d8effd"/><rect x="227.2" y="170.1" width="0.5" height="120.2" fill="#d8effd"/><rect x="229.3" y="170.1" width="1.1" height="120.2" fill="#b9e0fa"/><rect x="231.5" y="170.1" width="0.9" height="120.2" fill="#b9e0fa"/><rect x="234.3" y="170.1" width="0.9" height="120.2" fill="#d8effd"/><rect x="236.8" y="170.1" width="0.4" height="120.2" fill="#b9e0fa"/><rect x="239.9" y="170.1" width="0.6" height="120.2" fill="#d3ecfd"/><rect x="242.8" y="170.1" width="1.4" height="120.2" fill="#b9e0fa"/><rect x="246.3" y="170.1" width="1.1" height="120.2" fill="#b9e0fa"/><rect x="249.3" y="170.1" width="1.4" height="120.2" fill="#b9e0fa"/><rect x="253.6" y="170.1" width="0.8" height="120.2" fill="#b9e0fa"/><rect x="256.1" y="170.1" width="0.8" height="120.2" fill="#cbe8fc"/><rect x="258.2" y="170.1" width="1.1" height="120.2" fill="#d8effd"/><rect x="261.7" y="170.1" width="0.7" height="120.2" fill="#cbe8fc"/><rect x="263.9" y="170.1" width="1.1" height="120.2" fill="#cbe8fc"/></g>
<text x="0" y="0" font-size="6.0" text-anchor="start" fill="#e27d38" stroke="#e27d38" stroke-width="0.05" transform="translate(36.8 277.6) scale(1 1.15)">Solar Spectral Irradiance</text>
<text x="0" y="0" font-size="6.0" text-anchor="middle" fill="#336fb3" stroke="#336fb3" stroke-width="0.05" transform="translate(232.5 267.5) scale(1 1.15)">Atmospheric</text>
<text x="0" y="0" font-size="6.0" text-anchor="middle" fill="#336fb3" stroke="#336fb3" stroke-width="0.05" transform="translate(233.5 275) scale(1 1.15)">Transparency</text>
<path d="M30.2 276.5 L31.7 280 L34.6 283.6 L39 286.6 L44.1 288.4 L49.2 289.3 L56.5 289.9 L70 289.9 L85 289.6 L95 288.4 L100 287.9 L104.4 287.4 L107.7 282.8 L109.9 286.3 L113.2 285.7 L116.5 281.9 L118.8 281.9 L121 284.1 L124.3 282.8 L126.5 277.9 L128.7 270.2 L130.9 274.6 L133.1 277.9 L135.3 271.8 L137.5 277.9 L139.7 281.3 L141.9 276.8 L143.7 260.3 L145.2 230.5 L146.8 244.9 L148.1 244.4 L149.6 251.5 L150.7 258.1 L151.3 206 L152.4 207.5" fill="none" stroke="#18a0f0" stroke-width="1.75" stroke-linejoin="round" stroke-linecap="round" />
<path d="M157.7 209 L159.1 175.7 L160.6 177.8 L162.7 180 L165.2 178.5 L167 182.8 L168.4 188.4 L170.5 193.4 L172 189 L174.5 192.7 L177.6 185.6 L180.4 182.8 L182.3 187 L185.4 175.7 L189 176.4 L191 176.4 L194 175 L200 173.5 L206.4 172 L212 171 L223.4 171.7 L229 173 L242.3 176.2 L251.8 178.7 L261.3 182.5 L270.8 185 L276.4 187.6 L278.3 188.1 L280.2 185.3 L281.2 183.4" fill="none" stroke="#18a0f0" stroke-width="1.75" stroke-linejoin="round" stroke-linecap="round" />
<line x1="30.2" y1="170.1" x2="281.3" y2="170.1" stroke="#555" stroke-width="0.8" />
<line x1="281.3" y1="170.1" x2="281.3" y2="290.3" stroke="#555" stroke-width="0.8" />
<line x1="30.2" y1="170.1" x2="30.2" y2="290.3" stroke="#555" stroke-width="0.8" />
<line x1="30.2" y1="290.3" x2="151.5" y2="290.3" stroke="#555" stroke-width="0.8" />
<line x1="157.3" y1="290.3" x2="281.3" y2="290.3" stroke="#555" stroke-width="0.8" />
<line x1="149.9" y1="292.4" x2="154.5" y2="287.9" stroke="#555" stroke-width="0.8" />
<line x1="154.5" y1="292.4" x2="159.1" y2="287.9" stroke="#555" stroke-width="0.8" />
<line x1="27.8" y1="290.3" x2="30.2" y2="290.3" stroke="#555" stroke-width="0.9" />
<text x="27" y="292.8" font-size="7.3" text-anchor="end" fill="#222" >0.0</text>
<line x1="28.8" y1="284.3" x2="30.2" y2="284.3" stroke="#555" stroke-width="0.6" />
<line x1="27.8" y1="278.4" x2="30.2" y2="278.4" stroke="#555" stroke-width="0.9" />
<text x="27" y="280.9" font-size="7.3" text-anchor="end" fill="#222" >0.1</text>
<line x1="28.8" y1="272.4" x2="30.2" y2="272.4" stroke="#555" stroke-width="0.6" />
<line x1="27.8" y1="266.5" x2="30.2" y2="266.5" stroke="#555" stroke-width="0.9" />
<text x="27" y="269" font-size="7.3" text-anchor="end" fill="#222" >0.2</text>
<line x1="28.8" y1="260.5" x2="30.2" y2="260.5" stroke="#555" stroke-width="0.6" />
<line x1="27.8" y1="254.6" x2="30.2" y2="254.6" stroke="#555" stroke-width="0.9" />
<text x="27" y="257.1" font-size="7.3" text-anchor="end" fill="#222" >0.3</text>
<line x1="28.8" y1="248.6" x2="30.2" y2="248.6" stroke="#555" stroke-width="0.6" />
<line x1="27.8" y1="242.7" x2="30.2" y2="242.7" stroke="#555" stroke-width="0.9" />
<text x="27" y="245.2" font-size="7.3" text-anchor="end" fill="#222" >0.4</text>
<line x1="28.8" y1="236.7" x2="30.2" y2="236.7" stroke="#555" stroke-width="0.6" />
<line x1="27.8" y1="230.8" x2="30.2" y2="230.8" stroke="#555" stroke-width="0.9" />
<text x="27" y="233.2" font-size="7.3" text-anchor="end" fill="#222" >0.5</text>
<line x1="28.8" y1="224.8" x2="30.2" y2="224.8" stroke="#555" stroke-width="0.6" />
<line x1="27.8" y1="218.8" x2="30.2" y2="218.8" stroke="#555" stroke-width="0.9" />
<text x="27" y="221.3" font-size="7.3" text-anchor="end" fill="#222" >0.6</text>
<line x1="28.8" y1="212.9" x2="30.2" y2="212.9" stroke="#555" stroke-width="0.6" />
<line x1="27.8" y1="206.9" x2="30.2" y2="206.9" stroke="#555" stroke-width="0.9" />
<text x="27" y="209.4" font-size="7.3" text-anchor="end" fill="#222" >0.7</text>
<line x1="28.8" y1="201" x2="30.2" y2="201" stroke="#555" stroke-width="0.6" />
<line x1="27.8" y1="195" x2="30.2" y2="195" stroke="#555" stroke-width="0.9" />
<text x="27" y="197.5" font-size="7.3" text-anchor="end" fill="#222" >0.8</text>
<line x1="28.8" y1="189.1" x2="30.2" y2="189.1" stroke="#555" stroke-width="0.6" />
<line x1="27.8" y1="183.1" x2="30.2" y2="183.1" stroke="#555" stroke-width="0.9" />
<text x="27" y="185.6" font-size="7.3" text-anchor="end" fill="#222" >0.9</text>
<line x1="28.8" y1="177.2" x2="30.2" y2="177.2" stroke="#555" stroke-width="0.6" />
<line x1="27.8" y1="171.2" x2="30.2" y2="171.2" stroke="#555" stroke-width="0.9" />
<text x="27" y="173.7" font-size="7.3" text-anchor="end" fill="#222" >1.0</text>
<line x1="59.3" y1="290.3" x2="59.3" y2="292.7" stroke="#555" stroke-width="0.9" />
<text x="59.3" y="299.9" font-size="7.3" text-anchor="middle" fill="#222" >0.5</text>
<line x1="98.8" y1="290.3" x2="98.8" y2="292.7" stroke="#555" stroke-width="0.9" />
<text x="98.8" y="299.9" font-size="7.3" text-anchor="middle" fill="#222" >1</text>
<line x1="121.9" y1="290.3" x2="121.9" y2="292.7" stroke="#555" stroke-width="0.9" />
<text x="121.9" y="299.9" font-size="7.3" text-anchor="middle" fill="#222" >1.5</text>
<line x1="138.3" y1="290.3" x2="138.3" y2="292.7" stroke="#555" stroke-width="0.9" />
<text x="138.3" y="299.9" font-size="7.3" text-anchor="middle" fill="#222" >2</text>
<line x1="150.9" y1="290.3" x2="150.9" y2="292.7" stroke="#555" stroke-width="0.9" />
<text x="150.9" y="299.9" font-size="7.3" text-anchor="middle" fill="#222" >2.5</text>
<line x1="170" y1="290.3" x2="170" y2="292.7" stroke="#555" stroke-width="0.9" />
<text x="170" y="299.9" font-size="7.3" text-anchor="middle" fill="#222" >4</text>
<line x1="188.5" y1="290.3" x2="188.5" y2="292.7" stroke="#555" stroke-width="0.9" />
<text x="188.5" y="299.9" font-size="7.3" text-anchor="middle" fill="#222" >6</text>
<line x1="207.1" y1="290.3" x2="207.1" y2="292.7" stroke="#555" stroke-width="0.9" />
<text x="207.1" y="299.9" font-size="7.3" text-anchor="middle" fill="#222" >8</text>
<line x1="225.6" y1="290.3" x2="225.6" y2="292.7" stroke="#555" stroke-width="0.9" />
<text x="225.6" y="299.9" font-size="7.3" text-anchor="middle" fill="#222" >10</text>
<line x1="244.2" y1="290.3" x2="244.2" y2="292.7" stroke="#555" stroke-width="0.9" />
<text x="244.2" y="299.9" font-size="7.3" text-anchor="middle" fill="#222" >12</text>
<line x1="262.7" y1="290.3" x2="262.7" y2="292.7" stroke="#555" stroke-width="0.9" />
<text x="262.7" y="299.9" font-size="7.3" text-anchor="middle" fill="#222" >14</text>
<line x1="281.2" y1="290.3" x2="281.2" y2="292.7" stroke="#555" stroke-width="0.9" />
<text x="281.2" y="299.9" font-size="7.3" text-anchor="middle" fill="#222" >16</text>
<line x1="46.6" y1="290.3" x2="46.6" y2="291.7" stroke="#555" stroke-width="0.6" />
<line x1="69.7" y1="290.3" x2="69.7" y2="291.7" stroke="#555" stroke-width="0.6" />
<line x1="78.5" y1="290.3" x2="78.5" y2="291.7" stroke="#555" stroke-width="0.6" />
<line x1="86.1" y1="290.3" x2="86.1" y2="291.7" stroke="#555" stroke-width="0.6" />
<line x1="92.8" y1="290.3" x2="92.8" y2="291.7" stroke="#555" stroke-width="0.6" />
<line x1="109.2" y1="290.3" x2="109.2" y2="291.7" stroke="#555" stroke-width="0.6" />
<line x1="118" y1="290.3" x2="118" y2="291.7" stroke="#555" stroke-width="0.6" />
<line x1="125.6" y1="290.3" x2="125.6" y2="291.7" stroke="#555" stroke-width="0.6" />
<line x1="132.3" y1="290.3" x2="132.3" y2="291.7" stroke="#555" stroke-width="0.6" />
<line x1="143.7" y1="290.3" x2="143.7" y2="291.7" stroke="#555" stroke-width="0.6" />
<line x1="160.7" y1="290.3" x2="160.7" y2="291.7" stroke="#555" stroke-width="0.6" />
<line x1="179.3" y1="290.3" x2="179.3" y2="291.7" stroke="#555" stroke-width="0.6" />
<line x1="197.8" y1="290.3" x2="197.8" y2="291.7" stroke="#555" stroke-width="0.6" />
<line x1="216.3" y1="290.3" x2="216.3" y2="291.7" stroke="#555" stroke-width="0.6" />
<line x1="234.9" y1="290.3" x2="234.9" y2="291.7" stroke="#555" stroke-width="0.6" />
<line x1="253.4" y1="290.3" x2="253.4" y2="291.7" stroke="#555" stroke-width="0.6" />
<line x1="272" y1="290.3" x2="272" y2="291.7" stroke="#555" stroke-width="0.6" />
<text x="0" y="0" font-size="9.595" text-anchor="middle" fill="#222" stroke="#222" stroke-width="0.08" transform="translate(155.1 313.9) scale(1 1.05)">Wavelength (μm)</text>
<text x="0" y="0" font-size="9.4" text-anchor="middle" fill="#222" stroke="#222" stroke-width="0.08" transform="translate(7.8 229.9) rotate(-90) scale(1 1.05)">Emissivity (ε(λ))</text>
<text x="94.4" y="186.7" font-size="7.5" fill="#222">PMMA<tspan font-size="5.0" dy="0.6">HPA</tspan><tspan dy="-0.6">:</tspan></text>
<text x="94.4" y="196.8" font-size="7.2" text-anchor="start" fill="#222" >ε(λ)=1-ρ(λ)-τ(λ)</text>
<text x="0.8" y="6.9" font-size="11.5" text-anchor="start" fill="#111" font-weight="bold">a</text>
<text x="0.8" y="167.2" font-size="11.5" text-anchor="start" fill="#111" font-weight="bold">b</text>
<text x="289.6" y="7" font-size="11.5" text-anchor="start" fill="#111" font-weight="bold">c</text>
<text x="289.4" y="167.4" font-size="11.5" text-anchor="start" fill="#111" font-weight="bold">d</text>
<text x="498.9" y="7" font-size="11.5" text-anchor="start" fill="#111" font-weight="bold">e</text>
<text x="505.6" y="167" font-size="11.5" text-anchor="start" fill="#111" font-weight="bold">f</text>
<rect x="320.5" y="7.5" width="28.3" height="119.9" fill="#fffccc" />
<rect x="411.5" y="7.5" width="66.8" height="119.9" fill="#d5ebf9" />
<path d="M320.5 52.2 L321.6 64.3 L323.8 71 L326 72.8 L328.3 73.6 L332 74.1 L337.1 74.3 L338.6 74 L339.3 69.5 L339.8 76.5 L340.4 71 L341 75.5 L341.6 72 L342.6 73.5 L344 72.3 L345 74 L346 72.7 L347.2 73.8 L348.6 73.1" fill="none" stroke="#1667b2" stroke-width="1.1" stroke-linejoin="round" stroke-linecap="round" />
<path d="M352.6 72 L354 72.8 L355 72.2 L356.5 73.4 L358 73 L359.2 74.2 L361 74 L362 75 L364 74.8 L365.8 75.8 L367 75.5 L368.5 76.6 L370 76.8 L372 77.5 L374.3 78.8 L376 81.5 L377.1 85.3 L378.3 89.5 L379.1 95.2 L379.8 105 L380.5 116.5 L381.3 103.7 L381.9 70 L382.5 35.7 L383.2 48 L384.2 58.4 L385.6 66.9 L387 70 L388.4 72.5 L389.8 76 L391.3 79.6 L392.8 83.5 L394.1 86.7 L395 85.5 L396.1 82.5 L397 75 L397.8 69.7 L398.5 70.5 L399.2 72.5 L401.2 75.4 L402.6 77.5 L404 81 L405.5 86 L406.9 91 L408.8 95.2 L410.5 92.4 L411.5 87 L412.5 82.5 L413.6 85 L414.8 88.1 L416.8 79.6 L418.2 70 L419.6 61.2 L421 46 L422.5 35.7 L423.3 22 L424 24 L425.6 33.8 L427.3 40 L429 44.2 L430.7 48 L432.7 50.6 L435 55 L436.6 60 L438.3 63 L440 59 L442 54.5 L444 52.3 L446 52 L449 53 L452 54.3 L455 56.6 L458 58.6 L460.4 60 L463 59 L466 58.3 L469 59.3 L472.5 60.2 L475 60.6 L478 61 L481 59.6 L483.5 58 L485.8 57 L488 57.3 L490 58.2 L492.2 59.4" fill="none" stroke="#1667b2" stroke-width="1.1" stroke-linejoin="round" stroke-linecap="round" />
<line x1="318.6" y1="7.5" x2="492.2" y2="7.5" stroke="#555" stroke-width="0.8" />
<line x1="492.2" y1="7.5" x2="492.2" y2="127.4" stroke="#555" stroke-width="0.8" />
<line x1="318.6" y1="7.5" x2="318.6" y2="127.4" stroke="#555" stroke-width="0.8" />
<line x1="318.6" y1="127.4" x2="349.8" y2="127.4" stroke="#555" stroke-width="0.8" />
<line x1="352.8" y1="127.4" x2="492.2" y2="127.4" stroke="#555" stroke-width="0.8" />
<line x1="348.6" y1="129.2" x2="351.6" y2="125.6" stroke="#555" stroke-width="0.7" />
<line x1="351.2" y1="129.2" x2="354.2" y2="125.6" stroke="#555" stroke-width="0.7" />
<line x1="316.2" y1="120.9" x2="318.6" y2="120.9" stroke="#555" stroke-width="0.9" />
<text x="315.3" y="123.2" font-size="6.7" text-anchor="end" fill="#222" >1.30</text>
<line x1="316.2" y1="107.6" x2="318.6" y2="107.6" stroke="#555" stroke-width="0.9" />
<text x="315.3" y="109.9" font-size="6.7" text-anchor="end" fill="#222" >1.35</text>
<line x1="316.2" y1="94.3" x2="318.6" y2="94.3" stroke="#555" stroke-width="0.9" />
<text x="315.3" y="96.7" font-size="6.7" text-anchor="end" fill="#222" >1.40</text>
<line x1="316.2" y1="81" x2="318.6" y2="81" stroke="#555" stroke-width="0.9" />
<text x="315.3" y="83.4" font-size="6.7" text-anchor="end" fill="#222" >1.45</text>
<line x1="316.2" y1="67.7" x2="318.6" y2="67.7" stroke="#555" stroke-width="0.9" />
<text x="315.3" y="70" font-size="6.7" text-anchor="end" fill="#222" >1.50</text>
<line x1="316.2" y1="54.4" x2="318.6" y2="54.4" stroke="#555" stroke-width="0.9" />
<text x="315.3" y="56.7" font-size="6.7" text-anchor="end" fill="#222" >1.55</text>
<line x1="316.2" y1="41.1" x2="318.6" y2="41.1" stroke="#555" stroke-width="0.9" />
<text x="315.3" y="43.4" font-size="6.7" text-anchor="end" fill="#222" >1.60</text>
<line x1="316.2" y1="27.8" x2="318.6" y2="27.8" stroke="#555" stroke-width="0.9" />
<text x="315.3" y="30.2" font-size="6.7" text-anchor="end" fill="#222" >1.65</text>
<line x1="316.2" y1="14.5" x2="318.6" y2="14.5" stroke="#555" stroke-width="0.9" />
<text x="315.3" y="16.9" font-size="6.7" text-anchor="end" fill="#222" >1.70</text>
<line x1="317.2" y1="114.2" x2="318.6" y2="114.2" stroke="#555" stroke-width="0.6" />
<line x1="317.2" y1="101" x2="318.6" y2="101" stroke="#555" stroke-width="0.6" />
<line x1="317.2" y1="87.7" x2="318.6" y2="87.7" stroke="#555" stroke-width="0.6" />
<line x1="317.2" y1="74.4" x2="318.6" y2="74.4" stroke="#555" stroke-width="0.6" />
<line x1="317.2" y1="61" x2="318.6" y2="61" stroke="#555" stroke-width="0.6" />
<line x1="317.2" y1="47.7" x2="318.6" y2="47.7" stroke="#555" stroke-width="0.6" />
<line x1="317.2" y1="34.5" x2="318.6" y2="34.5" stroke="#555" stroke-width="0.6" />
<line x1="317.2" y1="21.2" x2="318.6" y2="21.2" stroke="#555" stroke-width="0.6" />
<line x1="318.6" y1="127.4" x2="318.6" y2="129.6" stroke="#555" stroke-width="0.9" />
<text x="318.6" y="136.4" font-size="6.7" text-anchor="middle" fill="#222" >0</text>
<line x1="330.6" y1="127.4" x2="330.6" y2="129.6" stroke="#555" stroke-width="0.9" />
<text x="330.6" y="136.4" font-size="6.7" text-anchor="middle" fill="#222" >1</text>
<line x1="342.6" y1="127.4" x2="342.6" y2="129.6" stroke="#555" stroke-width="0.9" />
<text x="342.6" y="136.4" font-size="6.7" text-anchor="middle" fill="#222" >2</text>
<line x1="358" y1="127.4" x2="358" y2="129.6" stroke="#555" stroke-width="0.9" />
<text x="358" y="136.4" font-size="6.7" text-anchor="middle" fill="#222" >4</text>
<line x1="371.4" y1="127.4" x2="371.4" y2="129.6" stroke="#555" stroke-width="0.9" />
<text x="371.4" y="136.4" font-size="6.7" text-anchor="middle" fill="#222" >5</text>
<line x1="384.7" y1="127.4" x2="384.7" y2="129.6" stroke="#555" stroke-width="0.9" />
<text x="384.7" y="136.4" font-size="6.7" text-anchor="middle" fill="#222" >6</text>
<line x1="398.1" y1="127.4" x2="398.1" y2="129.6" stroke="#555" stroke-width="0.9" />
<text x="398.1" y="136.4" font-size="6.7" text-anchor="middle" fill="#222" >7</text>
<line x1="411.5" y1="127.4" x2="411.5" y2="129.6" stroke="#555" stroke-width="0.9" />
<text x="411.5" y="136.4" font-size="6.7" text-anchor="middle" fill="#222" >8</text>
<line x1="424.9" y1="127.4" x2="424.9" y2="129.6" stroke="#555" stroke-width="0.9" />
<text x="424.9" y="136.4" font-size="6.7" text-anchor="middle" fill="#222" >9</text>
<line x1="438.2" y1="127.4" x2="438.2" y2="129.6" stroke="#555" stroke-width="0.9" />
<text x="438.2" y="136.4" font-size="6.7" text-anchor="middle" fill="#222" >10</text>
<line x1="451.6" y1="127.4" x2="451.6" y2="129.6" stroke="#555" stroke-width="0.9" />
<text x="451.6" y="136.4" font-size="6.7" text-anchor="middle" fill="#222" >11</text>
<line x1="465" y1="127.4" x2="465" y2="129.6" stroke="#555" stroke-width="0.9" />
<text x="465" y="136.4" font-size="6.7" text-anchor="middle" fill="#222" >12</text>
<line x1="478.3" y1="127.4" x2="478.3" y2="129.6" stroke="#555" stroke-width="0.9" />
<text x="478.3" y="136.4" font-size="6.7" text-anchor="middle" fill="#222" >13</text>
<line x1="491.7" y1="127.4" x2="491.7" y2="129.6" stroke="#555" stroke-width="0.9" />
<text x="491.7" y="136.4" font-size="6.7" text-anchor="middle" fill="#222" >14</text>
<line x1="324.6" y1="127.4" x2="324.6" y2="128.7" stroke="#555" stroke-width="0.6" />
<line x1="336.6" y1="127.4" x2="336.6" y2="128.7" stroke="#555" stroke-width="0.6" />
<line x1="364.7" y1="127.4" x2="364.7" y2="128.7" stroke="#555" stroke-width="0.6" />
<line x1="378.1" y1="127.4" x2="378.1" y2="128.7" stroke="#555" stroke-width="0.6" />
<line x1="391.4" y1="127.4" x2="391.4" y2="128.7" stroke="#555" stroke-width="0.6" />
<line x1="404.8" y1="127.4" x2="404.8" y2="128.7" stroke="#555" stroke-width="0.6" />
<line x1="418.2" y1="127.4" x2="418.2" y2="128.7" stroke="#555" stroke-width="0.6" />
<line x1="431.5" y1="127.4" x2="431.5" y2="128.7" stroke="#555" stroke-width="0.6" />
<line x1="444.9" y1="127.4" x2="444.9" y2="128.7" stroke="#555" stroke-width="0.6" />
<line x1="458.3" y1="127.4" x2="458.3" y2="128.7" stroke="#555" stroke-width="0.6" />
<line x1="471.6" y1="127.4" x2="471.6" y2="128.7" stroke="#555" stroke-width="0.6" />
<line x1="485" y1="127.4" x2="485" y2="128.7" stroke="#555" stroke-width="0.6" />
<text x="0" y="0" font-size="8.6" text-anchor="middle" fill="#222" stroke="#222" stroke-width="0.08" transform="translate(405.3 148.6) scale(1 1.05)">Wavelength (μm)</text>
<text x="0" y="0" font-size="8.45" text-anchor="middle" fill="#222" stroke="#222" stroke-width="0.08" transform="translate(297.2 67.3) rotate(-90) scale(1 1.05)">Refractive index (n)</text>
<line x1="362" y1="16.6" x2="377" y2="16.6" stroke="#1667b2" stroke-width="1.2" />
<text x="378.8" y="18.9" font-size="6.6" text-anchor="start" fill="#222" >PMMA</text>
<rect x="320.5" y="170.5" width="28.3" height="120.7" fill="#fffccc" />
<rect x="411.5" y="170.5" width="66.8" height="120.7" fill="#d5ebf9" />
<path d="M320 288.4 L330 288.4 L338.2 288.4 L338.6 284.2 L339.5 284.8 L340.2 283.6 L341 285.2 L342 284.3 L343 285.6 L344 284 L345 285.8 L346 284.5 L347 285.6 L348.5 284.6" fill="none" stroke="#18a0f0" stroke-width="1.1" stroke-linejoin="round" stroke-linecap="round" />
<path d="M352.3 287.2 L354 287.6 L355.5 286.8 L357 287.5 L359 287.1 L361 287.8 L363 287 L365 287.6 L367 287.2 L369 287.8 L371 287.1 L373 287.6 L375 287 L377 287.3 L379.1 286.2 L380.2 278 L380.8 230 L381.3 189.1 L381.9 205 L382.4 234.5 L383 260 L383.5 276.4 L384.5 280.5 L386.4 281.8 L388 283.5 L390 285.5 L391.5 285 L392.5 283.6 L393.5 278 L394.4 269 L395.3 263 L396.2 260.7 L397.1 266 L398 274.5 L399.8 278.9 L402 277.5 L403 278.2 L404.5 280 L405.8 277 L407.1 270.9 L408.5 261 L410 250.9 L411.8 243.6 L413.6 250.9 L414.9 240 L416.2 227.3 L417.3 217 L418.4 209.1 L419.3 203 L420.2 200 L421.1 205 L422 216.4 L422.9 229 L423.8 241.8 L425 256 L426.4 265.3 L428 271 L430 274 L432.4 278.6 L434 280.6 L435.5 281.2 L437.2 277 L438.6 271.5 L439.9 269.6 L442.1 269.6 L444 273 L446.5 277.1 L449 280 L451 282.3 L453.1 283.8 L455.5 282.8 L457.6 281.5 L460 279.5 L462.9 278.5 L466.4 279.3 L468.6 281.5 L470.8 283.8 L475.2 284.6 L478.5 281.5 L481.9 277.1 L484 279 L486.3 281.5 L488.5 284 L490.7 285.8 L492.2 285.8" fill="none" stroke="#18a0f0" stroke-width="1.1" stroke-linejoin="round" stroke-linecap="round" />
<line x1="318.6" y1="170.5" x2="492.2" y2="170.5" stroke="#555" stroke-width="0.8" />
<line x1="492.2" y1="170.5" x2="492.2" y2="291.2" stroke="#555" stroke-width="0.8" />
<line x1="318.6" y1="170.5" x2="318.6" y2="291.2" stroke="#555" stroke-width="0.8" />
<line x1="318.6" y1="291.2" x2="349.8" y2="291.2" stroke="#555" stroke-width="0.8" />
<line x1="352.8" y1="291.2" x2="492.2" y2="291.2" stroke="#555" stroke-width="0.8" />
<line x1="348.6" y1="293" x2="351.6" y2="289.4" stroke="#555" stroke-width="0.7" />
<line x1="351.2" y1="293" x2="354.2" y2="289.4" stroke="#555" stroke-width="0.7" />
<line x1="316.2" y1="288.6" x2="318.6" y2="288.6" stroke="#555" stroke-width="0.9" />
<text x="315.3" y="291" font-size="6.7" text-anchor="end" fill="#222" >0.00</text>
<line x1="316.2" y1="271.9" x2="318.6" y2="271.9" stroke="#555" stroke-width="0.9" />
<text x="315.3" y="274.3" font-size="6.7" text-anchor="end" fill="#222" >0.05</text>
<line x1="316.2" y1="255.2" x2="318.6" y2="255.2" stroke="#555" stroke-width="0.9" />
<text x="315.3" y="257.6" font-size="6.7" text-anchor="end" fill="#222" >0.10</text>
<line x1="316.2" y1="238.5" x2="318.6" y2="238.5" stroke="#555" stroke-width="0.9" />
<text x="315.3" y="240.9" font-size="6.7" text-anchor="end" fill="#222" >0.15</text>
<line x1="316.2" y1="221.8" x2="318.6" y2="221.8" stroke="#555" stroke-width="0.9" />
<text x="315.3" y="224.2" font-size="6.7" text-anchor="end" fill="#222" >0.20</text>
<line x1="316.2" y1="205.1" x2="318.6" y2="205.1" stroke="#555" stroke-width="0.9" />
<text x="315.3" y="207.5" font-size="6.7" text-anchor="end" fill="#222" >0.25</text>
<line x1="316.2" y1="188.4" x2="318.6" y2="188.4" stroke="#555" stroke-width="0.9" />
<text x="315.3" y="190.8" font-size="6.7" text-anchor="end" fill="#222" >0.30</text>
<line x1="316.2" y1="171.7" x2="318.6" y2="171.7" stroke="#555" stroke-width="0.9" />
<text x="315.3" y="174.1" font-size="6.7" text-anchor="end" fill="#222" >0.35</text>
<line x1="317.2" y1="280.2" x2="318.6" y2="280.2" stroke="#555" stroke-width="0.6" />
<line x1="317.2" y1="263.6" x2="318.6" y2="263.6" stroke="#555" stroke-width="0.6" />
<line x1="317.2" y1="246.9" x2="318.6" y2="246.9" stroke="#555" stroke-width="0.6" />
<line x1="317.2" y1="230.2" x2="318.6" y2="230.2" stroke="#555" stroke-width="0.6" />
<line x1="317.2" y1="213.5" x2="318.6" y2="213.5" stroke="#555" stroke-width="0.6" />
<line x1="317.2" y1="196.8" x2="318.6" y2="196.8" stroke="#555" stroke-width="0.6" />
<line x1="317.2" y1="180.1" x2="318.6" y2="180.1" stroke="#555" stroke-width="0.6" />
<line x1="318.6" y1="291.2" x2="318.6" y2="293.4" stroke="#555" stroke-width="0.9" />
<text x="318.6" y="300.2" font-size="6.7" text-anchor="middle" fill="#222" >0</text>
<line x1="330.6" y1="291.2" x2="330.6" y2="293.4" stroke="#555" stroke-width="0.9" />
<text x="330.6" y="300.2" font-size="6.7" text-anchor="middle" fill="#222" >1</text>
<line x1="342.6" y1="291.2" x2="342.6" y2="293.4" stroke="#555" stroke-width="0.9" />
<text x="342.6" y="300.2" font-size="6.7" text-anchor="middle" fill="#222" >2</text>
<line x1="358" y1="291.2" x2="358" y2="293.4" stroke="#555" stroke-width="0.9" />
<text x="358" y="300.2" font-size="6.7" text-anchor="middle" fill="#222" >4</text>
<line x1="371.4" y1="291.2" x2="371.4" y2="293.4" stroke="#555" stroke-width="0.9" />
<text x="371.4" y="300.2" font-size="6.7" text-anchor="middle" fill="#222" >5</text>
<line x1="384.7" y1="291.2" x2="384.7" y2="293.4" stroke="#555" stroke-width="0.9" />
<text x="384.7" y="300.2" font-size="6.7" text-anchor="middle" fill="#222" >6</text>
<line x1="398.1" y1="291.2" x2="398.1" y2="293.4" stroke="#555" stroke-width="0.9" />
<text x="398.1" y="300.2" font-size="6.7" text-anchor="middle" fill="#222" >7</text>
<line x1="411.5" y1="291.2" x2="411.5" y2="293.4" stroke="#555" stroke-width="0.9" />
<text x="411.5" y="300.2" font-size="6.7" text-anchor="middle" fill="#222" >8</text>
<line x1="424.9" y1="291.2" x2="424.9" y2="293.4" stroke="#555" stroke-width="0.9" />
<text x="424.9" y="300.2" font-size="6.7" text-anchor="middle" fill="#222" >9</text>
<line x1="438.2" y1="291.2" x2="438.2" y2="293.4" stroke="#555" stroke-width="0.9" />
<text x="438.2" y="300.2" font-size="6.7" text-anchor="middle" fill="#222" >10</text>
<line x1="451.6" y1="291.2" x2="451.6" y2="293.4" stroke="#555" stroke-width="0.9" />
<text x="451.6" y="300.2" font-size="6.7" text-anchor="middle" fill="#222" >11</text>
<line x1="465" y1="291.2" x2="465" y2="293.4" stroke="#555" stroke-width="0.9" />
<text x="465" y="300.2" font-size="6.7" text-anchor="middle" fill="#222" >12</text>
<line x1="478.3" y1="291.2" x2="478.3" y2="293.4" stroke="#555" stroke-width="0.9" />
<text x="478.3" y="300.2" font-size="6.7" text-anchor="middle" fill="#222" >13</text>
<line x1="491.7" y1="291.2" x2="491.7" y2="293.4" stroke="#555" stroke-width="0.9" />
<text x="491.7" y="300.2" font-size="6.7" text-anchor="middle" fill="#222" >14</text>
<line x1="324.6" y1="291.2" x2="324.6" y2="292.5" stroke="#555" stroke-width="0.6" />
<line x1="336.6" y1="291.2" x2="336.6" y2="292.5" stroke="#555" stroke-width="0.6" />
<line x1="364.7" y1="291.2" x2="364.7" y2="292.5" stroke="#555" stroke-width="0.6" />
<line x1="378.1" y1="291.2" x2="378.1" y2="292.5" stroke="#555" stroke-width="0.6" />
<line x1="391.4" y1="291.2" x2="391.4" y2="292.5" stroke="#555" stroke-width="0.6" />
<line x1="404.8" y1="291.2" x2="404.8" y2="292.5" stroke="#555" stroke-width="0.6" />
<line x1="418.2" y1="291.2" x2="418.2" y2="292.5" stroke="#555" stroke-width="0.6" />
<line x1="431.5" y1="291.2" x2="431.5" y2="292.5" stroke="#555" stroke-width="0.6" />
<line x1="444.9" y1="291.2" x2="444.9" y2="292.5" stroke="#555" stroke-width="0.6" />
<line x1="458.3" y1="291.2" x2="458.3" y2="292.5" stroke="#555" stroke-width="0.6" />
<line x1="471.6" y1="291.2" x2="471.6" y2="292.5" stroke="#555" stroke-width="0.6" />
<line x1="485" y1="291.2" x2="485" y2="292.5" stroke="#555" stroke-width="0.6" />
<text x="0" y="0" font-size="8.6" text-anchor="middle" fill="#222" stroke="#222" stroke-width="0.08" transform="translate(405.3 312.4) scale(1 1.05)">Wavelength (μm)</text>
<text x="0" y="0" font-size="8.75" text-anchor="middle" fill="#222" stroke="#222" stroke-width="0.08" transform="translate(295.9 228.2) rotate(-90) scale(1 1.05)">Extinction coefficient (κ)</text>
<line x1="362" y1="177.1" x2="377" y2="177.1" stroke="#18a0f0" stroke-width="1.2" />
<text x="378.8" y="179.4" font-size="6.6" text-anchor="start" fill="#222" >PMMA</text>
<rect x="584.3" y="6.8" width="60.3" height="120.6" fill="#e9e9fe" />
<path d="M518.6 119.7 L520.4 118.9 L521.5 115 L522.7 114.2 L523.9 115 L525.5 115.8 L526.7 116.5 L527.5 116.9 L528.2 112 L528.6 104 L529.1 93.1 L529.6 100 L529.8 107.9 L531 115.8 L532.6 116.5 L534.5 116.9 L536.9 118.1 L538.5 118.5 L539.3 120.9 L540 119.3 L541 120 L541.6 119.2 L542.3 120.2 L542.8 118.5 L543.6 117.7 L544 119.3 L544.4 119.9 L545 118.4 L545.6 118.9 L546.4 117.8 L547.2 118.1 L547.8 119.2 L548.3 118.6 L549.1 119.7 L550.3 120.3 L552.7 120.6 L555.8 121.1 L556.6 116 L557 100 L557.3 60 L557.6 19 L558 30 L558.5 80 L559.2 108.6 L560.2 112.5 L561.4 114.1 L563.5 114.8 L565.8 115.2 L567.5 112 L569.1 105.3 L570.5 100 L572 93.1 L572.9 103.1 L574.2 109 L575.1 107.5 L576.9 113 L579.1 114.1 L580 115.2 L581.3 110.8 L582.3 102.4 L583.5 96.5 L585.1 86.8 L586 95 L587.1 102.4 L588 96 L589.1 85.4 L590.2 76.9 L591.3 79.7 L592.2 66 L592.8 57 L593.6 52.8 L594.2 55 L594.8 62.7 L595.9 82.6 L597.6 92.5 L599.9 99.6 L602.1 103.8 L604.1 109.5 L607 112.3 L608.4 109.5 L609.8 104.7 L611.2 105.8 L614 109.5 L616.9 114.3 L619.7 115.2 L622.6 116.6 L625.4 114.3 L628.2 112.3 L630.5 109.5 L632.5 112.3 L635.3 114.3 L638.2 114.3 L641 116.6 L643.8 116.6 L646.7 113.2 L648.1 110.9 L649.5 113.8 L651.5 118 L655.2 118.9 L660 119.4 L670 119.6 L681.4 119.8" fill="none" stroke="#1667b2" stroke-width="1.35" stroke-linejoin="round" stroke-linecap="round" />
<line x1="518.6" y1="6.8" x2="681.4" y2="6.8" stroke="#555" stroke-width="0.8" />
<line x1="681.4" y1="6.8" x2="681.4" y2="127.4" stroke="#555" stroke-width="0.8" />
<line x1="518.6" y1="6.8" x2="518.6" y2="127.4" stroke="#555" stroke-width="0.8" />
<line x1="518.6" y1="127.4" x2="681.4" y2="127.4" stroke="#555" stroke-width="0.8" />
<line x1="524" y1="127.4" x2="524" y2="129.6" stroke="#555" stroke-width="0.9" />
<text x="524" y="136.8" font-size="6.9" text-anchor="middle" fill="#222" >3</text>
<line x1="530" y1="127.4" x2="530" y2="128.7" stroke="#555" stroke-width="0.6" />
<line x1="536.1" y1="127.4" x2="536.1" y2="129.6" stroke="#555" stroke-width="0.9" />
<text x="536.1" y="136.8" font-size="6.9" text-anchor="middle" fill="#222" >4</text>
<line x1="542.1" y1="127.4" x2="542.1" y2="128.7" stroke="#555" stroke-width="0.6" />
<line x1="548.1" y1="127.4" x2="548.1" y2="129.6" stroke="#555" stroke-width="0.9" />
<text x="548.1" y="136.8" font-size="6.9" text-anchor="middle" fill="#222" >5</text>
<line x1="554.1" y1="127.4" x2="554.1" y2="128.7" stroke="#555" stroke-width="0.6" />
<line x1="560.2" y1="127.4" x2="560.2" y2="129.6" stroke="#555" stroke-width="0.9" />
<text x="560.2" y="136.8" font-size="6.9" text-anchor="middle" fill="#222" >6</text>
<line x1="566.2" y1="127.4" x2="566.2" y2="128.7" stroke="#555" stroke-width="0.6" />
<line x1="572.2" y1="127.4" x2="572.2" y2="129.6" stroke="#555" stroke-width="0.9" />
<text x="572.2" y="136.8" font-size="6.9" text-anchor="middle" fill="#222" >7</text>
<line x1="578.3" y1="127.4" x2="578.3" y2="128.7" stroke="#555" stroke-width="0.6" />
<line x1="584.3" y1="127.4" x2="584.3" y2="129.6" stroke="#555" stroke-width="0.9" />
<text x="584.3" y="136.8" font-size="6.9" text-anchor="middle" fill="#222" >8</text>
<line x1="590.3" y1="127.4" x2="590.3" y2="128.7" stroke="#555" stroke-width="0.6" />
<line x1="596.4" y1="127.4" x2="596.4" y2="129.6" stroke="#555" stroke-width="0.9" />
<text x="596.4" y="136.8" font-size="6.9" text-anchor="middle" fill="#222" >9</text>
<line x1="602.4" y1="127.4" x2="602.4" y2="128.7" stroke="#555" stroke-width="0.6" />
<line x1="608.4" y1="127.4" x2="608.4" y2="129.6" stroke="#555" stroke-width="0.9" />
<text x="608.4" y="136.8" font-size="6.9" text-anchor="middle" fill="#222" >10</text>
<line x1="614.4" y1="127.4" x2="614.4" y2="128.7" stroke="#555" stroke-width="0.6" />
<line x1="620.5" y1="127.4" x2="620.5" y2="129.6" stroke="#555" stroke-width="0.9" />
<text x="620.5" y="136.8" font-size="6.9" text-anchor="middle" fill="#222" >11</text>
<line x1="626.5" y1="127.4" x2="626.5" y2="128.7" stroke="#555" stroke-width="0.6" />
<line x1="632.5" y1="127.4" x2="632.5" y2="129.6" stroke="#555" stroke-width="0.9" />
<text x="632.5" y="136.8" font-size="6.9" text-anchor="middle" fill="#222" >12</text>
<line x1="638.6" y1="127.4" x2="638.6" y2="128.7" stroke="#555" stroke-width="0.6" />
<line x1="644.6" y1="127.4" x2="644.6" y2="129.6" stroke="#555" stroke-width="0.9" />
<text x="644.6" y="136.8" font-size="6.9" text-anchor="middle" fill="#222" >13</text>
<line x1="650.6" y1="127.4" x2="650.6" y2="128.7" stroke="#555" stroke-width="0.6" />
<line x1="656.7" y1="127.4" x2="656.7" y2="129.6" stroke="#555" stroke-width="0.9" />
<text x="656.7" y="136.8" font-size="6.9" text-anchor="middle" fill="#222" >14</text>
<line x1="662.7" y1="127.4" x2="662.7" y2="128.7" stroke="#555" stroke-width="0.6" />
<line x1="668.7" y1="127.4" x2="668.7" y2="129.6" stroke="#555" stroke-width="0.9" />
<text x="668.7" y="136.8" font-size="6.9" text-anchor="middle" fill="#222" >15</text>
<line x1="674.8" y1="127.4" x2="674.8" y2="128.7" stroke="#555" stroke-width="0.6" />
<line x1="680.8" y1="127.4" x2="680.8" y2="129.6" stroke="#555" stroke-width="0.9" />
<text x="680.8" y="136.8" font-size="6.9" text-anchor="middle" fill="#222" >16</text>
<text x="0" y="0" font-size="9.35" text-anchor="middle" fill="#222" stroke="#222" stroke-width="0.08" transform="translate(599.9 150.2) scale(1 1.05)">Wavelength (μm)</text>
<text x="0" y="0" font-size="9.3" text-anchor="middle" fill="#222" stroke="#222" stroke-width="0.08" transform="translate(508.4 66.5) rotate(-90) scale(1 1.05)">Absorbance (abt.unit)</text>
<line x1="627" y1="15.2" x2="643.5" y2="15.2" stroke="#1667b2" stroke-width="1.2" />
<text x="645.2" y="18" font-size="7.4" fill="#222">PMMA<tspan font-size="5.6" dy="2.0">HPA</tspan></text>
<text x="561.3" y="13.3" font-size="6.3" text-anchor="middle" fill="#222" >C=O</text>
<line x1="560.4" y1="13.8" x2="558.3" y2="18.5" stroke="#222" stroke-width="0.6" />
<path d="M558.3 18.5 L558.5 16.3 L559.8 16.9 Z" fill="#222" stroke="none" />
<text x="529.4" y="83.7" font-size="6.3" text-anchor="middle" fill="#222" >-C-H</text>
<line x1="529.4" y1="84.6" x2="529.4" y2="92" stroke="#222" stroke-width="0.6" />
<path d="M529.4 92 L528.6 89.9 L530.2 89.9 Z" fill="#222" stroke="none" />
<text x="572.5" y="83.7" font-size="6.3" text-anchor="middle" fill="#222" >-C-H</text>
<line x1="572.5" y1="84.6" x2="572.5" y2="92" stroke="#222" stroke-width="0.6" />
<path d="M572.5 92 L571.7 89.9 L573.3 89.9 Z" fill="#222" stroke="none" />
<text x="593.8" y="42.5" font-size="6.3" text-anchor="middle" fill="#222" >C-O-C</text>
<line x1="593.8" y1="43.6" x2="593.8" y2="51.8" stroke="#222" stroke-width="0.6" />
<path d="M593.8 51.8 L593 49.7 L594.6 49.7 Z" fill="#222" stroke="none" />
<text x="623.1" y="94.8" font-size="6.3" text-anchor="middle" fill="#222" >C-O-C</text>
<line x1="620" y1="96" x2="616.8" y2="103.5" stroke="#222" stroke-width="0.6" />
<path d="M616.8 103.5 L616.9 101.3 L618.3 101.9 Z" fill="#222" stroke="none" />
<line x1="626.5" y1="96" x2="630.5" y2="103.5" stroke="#222" stroke-width="0.6" />
<path d="M630.5 103.5 L628.9 102 L630.2 101.3 Z" fill="#222" stroke="none" />
<defs><linearGradient id="fg" x1="0" y1="0" x2="0" y2="1"><stop offset="0" stop-color="#f6af7a"/><stop offset="0.45" stop-color="#ea8d49"/><stop offset="0.75" stop-color="#d9762f"/><stop offset="1" stop-color="#b8581a"/></linearGradient><clipPath id="fc"><rect x="532.5" y="177.6" width="136.9" height="111"/></clipPath></defs>
<g clip-path="url(#fc)">
<rect x="532.5" y="177.6" width="136.9" height="111" fill="url(#fg)"/>
<path d="M538.5 170 L538.5 177.6 L538.06 178.78 L537.59 179.95 L537.09 181.12 L536.57 182.3 L536.01 183.47 L535.44 184.65 L534.83 185.82 L534.2 187 L534.2 207 L534.38 209.22 L534.91 211.37 L535.77 213.44 L536.93 215.42 L538.37 217.3 L540.07 219.08 L542.01 220.73 L544.16 222.25 L546.51 223.63 L549.03 224.86 L551.7 225.93 L554.49 226.83 L557.39 227.54 L560.37 228.07 L563.42 228.39 L566.5 228.5 L569.57 228.39 L572.58 228.07 L575.52 227.54 L578.35 226.83 L581.07 225.93 L583.65 224.86 L586.08 223.63 L588.34 222.25 L590.4 220.73 L592.25 219.08 L593.86 217.3 L595.23 215.42 L596.33 213.44 L597.13 211.37 L597.63 209.22 L597.8 207 L597.8 187 L597.07 185.83 L596.36 184.65 L595.69 183.47 L595.05 182.3 L594.44 181.12 L593.86 179.95 L593.32 178.78 L592.8 177.6 L592.8 170 Z" fill="#fff"/>
<path d="M608.5 170 L608.5 177.6 L607.93 178.78 L607.33 179.95 L606.7 181.12 L606.02 182.3 L605.32 183.47 L604.58 184.65 L603.81 185.82 L603 187 L603 207 L603.17 209.22 L603.69 211.37 L604.51 213.44 L605.63 215.42 L607.03 217.3 L608.68 219.08 L610.56 220.73 L612.66 222.25 L614.95 223.63 L617.42 224.86 L620.04 225.93 L622.79 226.83 L625.65 227.54 L628.6 228.07 L631.62 228.39 L634.7 228.5 L637.77 228.39 L640.79 228.07 L643.73 227.54 L646.58 226.83 L649.32 225.93 L651.92 224.86 L654.36 223.63 L656.64 222.25 L658.72 220.73 L660.58 219.08 L662.22 217.3 L663.6 215.42 L664.71 213.44 L665.52 211.37 L666.03 209.22 L666.2 207 L666.2 187 L665.8 185.83 L665.42 184.65 L665.06 183.47 L664.71 182.3 L664.39 181.12 L664.07 179.95 L663.78 178.78 L663.5 177.6 L663.5 170 Z" fill="#fff"/>
<circle cx="533.31" cy="178.47" r="1.41" fill="#fff"/>
<circle cx="597.7" cy="179.75" r="1.34" fill="#fff"/>
<circle cx="604.42" cy="178.41" r="1.34" fill="#fff"/>
<circle cx="670.36" cy="179.15" r="1.46" fill="#fff"/>
<circle cx="601.89" cy="185.5" r="1.29" fill="#fff"/>
<circle cx="669.9" cy="190.45" r="1.45" fill="#fff"/>
<circle cx="669.42" cy="204.09" r="1.48" fill="#fff"/>
<circle cx="534.33" cy="214.99" r="1.39" fill="#fff"/>
<circle cx="599.67" cy="215.27" r="1.39" fill="#fff"/>
<circle cx="670.17" cy="216.58" r="1.45" fill="#fff"/>
<circle cx="536.21" cy="221.68" r="1.38" fill="#fff"/>
<circle cx="594.93" cy="220.97" r="1.44" fill="#fff"/>
<circle cx="601.44" cy="221.13" r="1.36" fill="#fff"/>
<circle cx="609.36" cy="222.37" r="1.33" fill="#fff"/>
<circle cx="659.5" cy="222.45" r="1.37" fill="#fff"/>
<circle cx="666.6" cy="221.9" r="1.47" fill="#fff"/>
<circle cx="533.19" cy="227.23" r="1.39" fill="#fff"/>
<circle cx="539.62" cy="227.2" r="1.31" fill="#fff"/>
<circle cx="545.71" cy="227.36" r="1.34" fill="#fff"/>
<circle cx="552.77" cy="228.37" r="1.34" fill="#fff"/>
<circle cx="585.02" cy="227.85" r="1.47" fill="#fff"/>
<circle cx="591.33" cy="228.47" r="1.37" fill="#fff"/>
<circle cx="598.69" cy="228.5" r="1.36" fill="#fff"/>
<circle cx="605.21" cy="228.24" r="1.48" fill="#fff"/>
<circle cx="611.35" cy="228.5" r="1.42" fill="#fff"/>
<circle cx="618.5" cy="227.73" r="1.35" fill="#fff"/>
<circle cx="651.52" cy="228.21" r="1.34" fill="#fff"/>
<circle cx="656.63" cy="227.53" r="1.37" fill="#fff"/>
<circle cx="662.95" cy="227.8" r="1.33" fill="#fff"/>
<circle cx="671.22" cy="228.75" r="1.39" fill="#fff"/>
<circle cx="536.39" cy="234.84" r="1.34" fill="#fff"/>
<circle cx="543.13" cy="233.1" r="1.36" fill="#fff"/>
<circle cx="549.89" cy="234" r="1.32" fill="#fff"/>
<circle cx="556.46" cy="233.11" r="1.33" fill="#fff"/>
<circle cx="562.05" cy="233.82" r="1.29" fill="#fff"/>
<circle cx="568.4" cy="233.65" r="1.33" fill="#fff"/>
<circle cx="576.14" cy="234.05" r="1.43" fill="#fff"/>
<circle cx="582.8" cy="234.39" r="1.46" fill="#fff"/>
<circle cx="588.71" cy="233.69" r="1.48" fill="#fff"/>
<circle cx="594.68" cy="234.4" r="1.41" fill="#fff"/>
<circle cx="600.95" cy="234.6" r="1.46" fill="#fff"/>
<circle cx="608.73" cy="234.42" r="1.44" fill="#fff"/>
<circle cx="614.16" cy="234.04" r="1.38" fill="#fff"/>
<circle cx="622.19" cy="234.55" r="1.45" fill="#fff"/>
<circle cx="628.13" cy="234.71" r="1.42" fill="#fff"/>
<circle cx="634.88" cy="233.51" r="1.29" fill="#fff"/>
<circle cx="640.14" cy="233.75" r="1.3" fill="#fff"/>
<circle cx="648.19" cy="234.11" r="1.41" fill="#fff"/>
<circle cx="654.23" cy="234.33" r="1.38" fill="#fff"/>
<circle cx="659.36" cy="234.54" r="1.43" fill="#fff"/>
<circle cx="666.96" cy="234.06" r="1.41" fill="#fff"/>
<circle cx="532.75" cy="240.53" r="1.33" fill="#fff"/>
<circle cx="539.26" cy="239.68" r="1.43" fill="#fff"/>
<circle cx="546.05" cy="240.53" r="1.48" fill="#fff"/>
<circle cx="553.19" cy="239.89" r="1.38" fill="#fff"/>
<circle cx="560.1" cy="240.58" r="1.4" fill="#fff"/>
<circle cx="566.51" cy="239.34" r="1.31" fill="#fff"/>
<circle cx="572.16" cy="240.54" r="1.34" fill="#fff"/>
<circle cx="579.35" cy="239.22" r="1.29" fill="#fff"/>
<circle cx="585.19" cy="240.41" r="1.42" fill="#fff"/>
<circle cx="592.59" cy="239.72" r="1.38" fill="#fff"/>
<circle cx="598.62" cy="240.04" r="1.3" fill="#fff"/>
<circle cx="606.07" cy="239.56" r="1.48" fill="#fff"/>
<circle cx="612.66" cy="239.23" r="1.37" fill="#fff"/>
<circle cx="618.9" cy="240.94" r="1.37" fill="#fff"/>
<circle cx="624.19" cy="239.58" r="1.47" fill="#fff"/>
<circle cx="630.56" cy="240.25" r="1.31" fill="#fff"/>
<circle cx="637.75" cy="240.91" r="1.31" fill="#fff"/>
<circle cx="644.9" cy="240.12" r="1.46" fill="#fff"/>
<circle cx="651.15" cy="239.62" r="1.46" fill="#fff"/>
<circle cx="657.17" cy="239.24" r="1.28" fill="#fff"/>
<circle cx="663.68" cy="240.01" r="1.34" fill="#fff"/>
<circle cx="669.41" cy="239.82" r="1.34" fill="#fff"/>
<circle cx="537.7" cy="245.3" r="1.43" fill="#fff"/>
<circle cx="544.2" cy="245.52" r="1.47" fill="#fff"/>
<circle cx="550.42" cy="246.92" r="1.34" fill="#fff"/>
<circle cx="556.17" cy="246.01" r="1.48" fill="#fff"/>
<circle cx="563.15" cy="245.95" r="1.37" fill="#fff"/>
<circle cx="568.96" cy="245.39" r="1.3" fill="#fff"/>
<circle cx="576.69" cy="245.81" r="1.47" fill="#fff"/>
<circle cx="581.9" cy="245.78" r="1.38" fill="#fff"/>
<circle cx="588.27" cy="245.97" r="1.47" fill="#fff"/>
<circle cx="596.3" cy="246.76" r="1.41" fill="#fff"/>
<circle cx="602.86" cy="246.99" r="1.39" fill="#fff"/>
<circle cx="608.93" cy="245.39" r="1.43" fill="#fff"/>
<circle cx="614.84" cy="246.65" r="1.41" fill="#fff"/>
<circle cx="620.98" cy="245.39" r="1.47" fill="#fff"/>
<circle cx="627.13" cy="246.15" r="1.35" fill="#fff"/>
<circle cx="634.01" cy="246.63" r="1.48" fill="#fff"/>
<circle cx="640.42" cy="246.48" r="1.34" fill="#fff"/>
<circle cx="647.58" cy="246.01" r="1.31" fill="#fff"/>
<circle cx="653.21" cy="245.67" r="1.46" fill="#fff"/>
<circle cx="660.44" cy="245.7" r="1.46" fill="#fff"/>
<circle cx="668.04" cy="246.11" r="1.31" fill="#fff"/>
<circle cx="533.02" cy="251.56" r="1.35" fill="#fff"/>
<circle cx="539.3" cy="251.83" r="1.33" fill="#fff"/>
<circle cx="546.85" cy="253" r="1.43" fill="#fff"/>
<circle cx="553.01" cy="252.14" r="1.38" fill="#fff"/>
<circle cx="559.43" cy="252.01" r="1.29" fill="#fff"/>
<circle cx="565.71" cy="253.14" r="1.31" fill="#fff"/>
<circle cx="572.71" cy="252.53" r="1.45" fill="#fff"/>
<circle cx="578.58" cy="251.89" r="1.33" fill="#fff"/>
<circle cx="585.48" cy="252.2" r="1.47" fill="#fff"/>
<circle cx="592.97" cy="252.97" r="1.28" fill="#fff"/>
<circle cx="597.67" cy="252.68" r="1.46" fill="#fff"/>
<circle cx="605.14" cy="252.46" r="1.28" fill="#fff"/>
<circle cx="611.46" cy="253.07" r="1.45" fill="#fff"/>
<circle cx="618.98" cy="253.15" r="1.33" fill="#fff"/>
<circle cx="623.84" cy="251.68" r="1.38" fill="#fff"/>
<circle cx="631.6" cy="253.09" r="1.42" fill="#fff"/>
<circle cx="638.02" cy="252.78" r="1.37" fill="#fff"/>
<circle cx="644.31" cy="251.47" r="1.44" fill="#fff"/>
<circle cx="650.11" cy="253.06" r="1.41" fill="#fff"/>
<circle cx="656.77" cy="251.63" r="1.33" fill="#fff"/>
<circle cx="664" cy="252.66" r="1.3" fill="#fff"/>
<circle cx="669.25" cy="252.34" r="1.4" fill="#fff"/>
<circle cx="536.7" cy="257.9" r="1.4" fill="#fff"/>
<circle cx="542.37" cy="258.04" r="1.37" fill="#fff"/>
<circle cx="550.96" cy="258.66" r="1.46" fill="#fff"/>
<circle cx="556.4" cy="257.92" r="1.33" fill="#fff"/>
<circle cx="563.96" cy="258.77" r="1.34" fill="#fff"/>
<circle cx="568.4" cy="258.4" r="1.41" fill="#fff"/>
<circle cx="575.77" cy="257.96" r="1.41" fill="#fff"/>
<circle cx="583.39" cy="257.91" r="1.29" fill="#fff"/>
<circle cx="588.59" cy="258.26" r="1.42" fill="#fff"/>
<circle cx="594.79" cy="258.93" r="1.43" fill="#fff"/>
<circle cx="601.96" cy="257.87" r="1.47" fill="#fff"/>
<circle cx="608.04" cy="258.98" r="1.33" fill="#fff"/>
<circle cx="614.34" cy="258.87" r="1.34" fill="#fff"/>
<circle cx="622.44" cy="258.39" r="1.32" fill="#fff"/>
<circle cx="627.34" cy="258.25" r="1.41" fill="#fff"/>
<circle cx="635.44" cy="257.76" r="1.36" fill="#fff"/>
<circle cx="640.32" cy="259.25" r="1.31" fill="#fff"/>
<circle cx="646.46" cy="257.61" r="1.36" fill="#fff"/>
<circle cx="654.83" cy="259.09" r="1.43" fill="#fff"/>
<circle cx="661.54" cy="259.18" r="1.35" fill="#fff"/>
<circle cx="666.26" cy="259.18" r="1.43" fill="#fff"/>
<circle cx="532.67" cy="264.8" r="1.36" fill="#fff"/>
<circle cx="539.92" cy="264.2" r="1.31" fill="#fff"/>
<circle cx="545.61" cy="264.1" r="1.35" fill="#fff"/>
<circle cx="554.2" cy="263.82" r="1.47" fill="#fff"/>
<circle cx="559.06" cy="264.24" r="1.44" fill="#fff"/>
<circle cx="566.91" cy="264.38" r="1.29" fill="#fff"/>
<circle cx="572.64" cy="264.27" r="1.46" fill="#fff"/>
<circle cx="578.52" cy="264.26" r="1.46" fill="#fff"/>
<circle cx="584.67" cy="264.34" r="1.44" fill="#fff"/>
<circle cx="592.79" cy="263.67" r="1.29" fill="#fff"/>
<circle cx="597.74" cy="265.26" r="1.33" fill="#fff"/>
<circle cx="605.74" cy="265.22" r="1.35" fill="#fff"/>
<circle cx="611.2" cy="265.32" r="1.4" fill="#fff"/>
<circle cx="617.68" cy="264.89" r="1.34" fill="#fff"/>
<circle cx="624.21" cy="263.61" r="1.43" fill="#fff"/>
<circle cx="632.12" cy="264.74" r="1.47" fill="#fff"/>
<circle cx="636.65" cy="264.02" r="1.38" fill="#fff"/>
<circle cx="645.2" cy="265.32" r="1.36" fill="#fff"/>
<circle cx="650.15" cy="264.37" r="1.38" fill="#fff"/>
<circle cx="658.14" cy="263.93" r="1.44" fill="#fff"/>
<circle cx="664.22" cy="265.08" r="1.43" fill="#fff"/>
<circle cx="670.44" cy="264.19" r="1.34" fill="#fff"/>
<circle cx="536.65" cy="271.11" r="1.3" fill="#fff"/>
<circle cx="542.78" cy="271.06" r="1.33" fill="#fff"/>
<circle cx="548.99" cy="269.76" r="1.39" fill="#fff"/>
<circle cx="556.07" cy="271.46" r="1.46" fill="#fff"/>
<circle cx="564.02" cy="270.18" r="1.3" fill="#fff"/>
<circle cx="568.56" cy="270.6" r="1.42" fill="#fff"/>
<circle cx="575.83" cy="270.12" r="1.36" fill="#fff"/>
<circle cx="582.71" cy="270.91" r="1.43" fill="#fff"/>
<circle cx="589.71" cy="270.9" r="1.3" fill="#fff"/>
<circle cx="596.2" cy="270.23" r="1.39" fill="#fff"/>
<circle cx="601.67" cy="271.03" r="1.32" fill="#fff"/>
<circle cx="607.89" cy="270.14" r="1.31" fill="#fff"/>
<circle cx="615.8" cy="270.74" r="1.35" fill="#fff"/>
<circle cx="621.22" cy="271.49" r="1.38" fill="#fff"/>
<circle cx="627.36" cy="271.16" r="1.41" fill="#fff"/>
<circle cx="635.53" cy="269.88" r="1.37" fill="#fff"/>
<circle cx="641.65" cy="271.21" r="1.46" fill="#fff"/>
<circle cx="646.44" cy="270.23" r="1.3" fill="#fff"/>
<circle cx="653.27" cy="271.45" r="1.4" fill="#fff"/>
<circle cx="661.4" cy="270.37" r="1.45" fill="#fff"/>
<circle cx="666.84" cy="270.17" r="1.44" fill="#fff"/>
<circle cx="534.68" cy="275.99" r="1.4" fill="#fff"/>
<circle cx="540.46" cy="276.19" r="1.35" fill="#fff"/>
<circle cx="545.91" cy="276.17" r="1.33" fill="#fff"/>
<circle cx="553.42" cy="276.97" r="1.32" fill="#fff"/>
<circle cx="558.63" cy="276.39" r="1.42" fill="#fff"/>
<circle cx="565.51" cy="276.36" r="1.32" fill="#fff"/>
<circle cx="573.35" cy="276.79" r="1.29" fill="#fff"/>
<circle cx="578.32" cy="276.51" r="1.39" fill="#fff"/>
<circle cx="586.01" cy="275.96" r="1.31" fill="#fff"/>
<circle cx="592.63" cy="276.54" r="1.34" fill="#fff"/>
<circle cx="598.28" cy="277.52" r="1.34" fill="#fff"/>
<circle cx="605.35" cy="276.44" r="1.36" fill="#fff"/>
<circle cx="612.5" cy="277.59" r="1.35" fill="#fff"/>
<circle cx="617.53" cy="277.11" r="1.32" fill="#fff"/>
<circle cx="623.61" cy="277.42" r="1.36" fill="#fff"/>
<circle cx="631.9" cy="276.53" r="1.46" fill="#fff"/>
<circle cx="637.61" cy="276.09" r="1.28" fill="#fff"/>
<circle cx="644.31" cy="276.95" r="1.46" fill="#fff"/>
<circle cx="649.8" cy="276.92" r="1.35" fill="#fff"/>
<circle cx="657.21" cy="276.06" r="1.34" fill="#fff"/>
<circle cx="663.75" cy="277.47" r="1.3" fill="#fff"/>
<circle cx="670.18" cy="277.25" r="1.47" fill="#fff"/>
<circle cx="536.28" cy="282.13" r="1.47" fill="#fff"/>
<circle cx="544.5" cy="282.77" r="1.29" fill="#fff"/>
<circle cx="550.89" cy="282.6" r="1.46" fill="#fff"/>
<circle cx="556.71" cy="283.38" r="1.31" fill="#fff"/>
<circle cx="563.58" cy="282.3" r="1.36" fill="#fff"/>
<circle cx="570.21" cy="283.39" r="1.32" fill="#fff"/>
<circle cx="575.33" cy="282.62" r="1.38" fill="#fff"/>
<circle cx="582.19" cy="282.12" r="1.33" fill="#fff"/>
<circle cx="589.44" cy="283.52" r="1.29" fill="#fff"/>
<circle cx="595.59" cy="283.26" r="1.29" fill="#fff"/>
<circle cx="602.69" cy="282.11" r="1.4" fill="#fff"/>
<circle cx="608.56" cy="283.03" r="1.34" fill="#fff"/>
<circle cx="614.77" cy="282.95" r="1.37" fill="#fff"/>
<circle cx="621.8" cy="282.7" r="1.37" fill="#fff"/>
<circle cx="626.9" cy="283.01" r="1.38" fill="#fff"/>
<circle cx="633.87" cy="283.27" r="1.44" fill="#fff"/>
<circle cx="640.86" cy="282.22" r="1.37" fill="#fff"/>
<circle cx="646.59" cy="282.13" r="1.37" fill="#fff"/>
<circle cx="653.05" cy="282.7" r="1.38" fill="#fff"/>
<circle cx="659.44" cy="283.05" r="1.3" fill="#fff"/>
<circle cx="667.46" cy="283.3" r="1.38" fill="#fff"/>
<circle cx="532.72" cy="288.91" r="1.36" fill="#fff"/>
<circle cx="541.19" cy="288.25" r="1.45" fill="#fff"/>
<circle cx="547.79" cy="289.32" r="1.44" fill="#fff"/>
<circle cx="552.53" cy="289.77" r="1.38" fill="#fff"/>
<circle cx="560.7" cy="289.65" r="1.31" fill="#fff"/>
<circle cx="566.83" cy="289.68" r="1.29" fill="#fff"/>
<circle cx="572.37" cy="289.36" r="1.31" fill="#fff"/>
<circle cx="580.07" cy="288.49" r="1.44" fill="#fff"/>
<circle cx="584.92" cy="288.9" r="1.46" fill="#fff"/>
<circle cx="591.56" cy="288.47" r="1.38" fill="#fff"/>
<circle cx="598.3" cy="288.07" r="1.32" fill="#fff"/>
<circle cx="604.45" cy="289.69" r="1.42" fill="#fff"/>
<circle cx="612.57" cy="288.3" r="1.44" fill="#fff"/>
<circle cx="617.35" cy="288.96" r="1.41" fill="#fff"/>
<circle cx="624.39" cy="289.57" r="1.39" fill="#fff"/>
<circle cx="631.38" cy="289.59" r="1.3" fill="#fff"/>
<circle cx="638.78" cy="289.13" r="1.36" fill="#fff"/>
<circle cx="644.85" cy="288.48" r="1.48" fill="#fff"/>
<circle cx="650.87" cy="288.65" r="1.43" fill="#fff"/>
<circle cx="657.07" cy="288.32" r="1.43" fill="#fff"/>
<circle cx="662.71" cy="289.48" r="1.33" fill="#fff"/>
<circle cx="670.51" cy="289.77" r="1.4" fill="#fff"/>
<circle cx="538.5" cy="177.28" r="1.45" fill="#fff"/>
<circle cx="537.28" cy="180.68" r="1.45" fill="#fff"/>
<circle cx="535.76" cy="183.99" r="1.45" fill="#fff"/>
<circle cx="534.2" cy="187.25" r="1.45" fill="#fff"/>
<circle cx="534.2" cy="190.89" r="1.45" fill="#fff"/>
<circle cx="534.2" cy="194.53" r="1.45" fill="#fff"/>
<circle cx="534.2" cy="198.17" r="1.45" fill="#fff"/>
<circle cx="534.2" cy="201.81" r="1.45" fill="#fff"/>
<circle cx="534.2" cy="205.44" r="1.45" fill="#fff"/>
<circle cx="534.37" cy="209.08" r="1.45" fill="#fff"/>
<circle cx="535.4" cy="212.55" r="1.45" fill="#fff"/>
<circle cx="537.16" cy="215.73" r="1.45" fill="#fff"/>
<circle cx="539.51" cy="218.5" r="1.45" fill="#fff"/>
<circle cx="542.24" cy="220.89" r="1.45" fill="#fff"/>
<circle cx="545.27" cy="222.9" r="1.45" fill="#fff"/>
<circle cx="548.49" cy="224.6" r="1.45" fill="#fff"/>
<circle cx="551.86" cy="225.98" r="1.45" fill="#fff"/>
<circle cx="555.34" cy="227.04" r="1.45" fill="#fff"/>
<circle cx="558.89" cy="227.81" r="1.45" fill="#fff"/>
<circle cx="562.5" cy="228.29" r="1.45" fill="#fff"/>
<circle cx="566.13" cy="228.49" r="1.45" fill="#fff"/>
<circle cx="569.76" cy="228.37" r="1.45" fill="#fff"/>
<circle cx="573.37" cy="227.93" r="1.45" fill="#fff"/>
<circle cx="576.94" cy="227.19" r="1.45" fill="#fff"/>
<circle cx="580.42" cy="226.15" r="1.45" fill="#fff"/>
<circle cx="583.8" cy="224.79" r="1.45" fill="#fff"/>
<circle cx="587" cy="223.07" r="1.45" fill="#fff"/>
<circle cx="590" cy="221.02" r="1.45" fill="#fff"/>
<circle cx="592.7" cy="218.58" r="1.45" fill="#fff"/>
<circle cx="594.98" cy="215.76" r="1.45" fill="#fff"/>
<circle cx="596.67" cy="212.55" r="1.45" fill="#fff"/>
<circle cx="597.64" cy="209.05" r="1.45" fill="#fff"/>
<circle cx="597.8" cy="205.42" r="1.45" fill="#fff"/>
<circle cx="597.8" cy="201.78" r="1.45" fill="#fff"/>
<circle cx="597.8" cy="198.14" r="1.45" fill="#fff"/>
<circle cx="597.8" cy="194.5" r="1.45" fill="#fff"/>
<circle cx="597.8" cy="190.86" r="1.45" fill="#fff"/>
<circle cx="597.8" cy="187.22" r="1.45" fill="#fff"/>
<circle cx="596.03" cy="184.08" r="1.45" fill="#fff"/>
<circle cx="594.32" cy="180.87" r="1.45" fill="#fff"/>
<circle cx="592.8" cy="177.57" r="1.45" fill="#fff"/>
<circle cx="608.5" cy="177.28" r="1.45" fill="#fff"/>
<circle cx="607" cy="180.56" r="1.45" fill="#fff"/>
<circle cx="605.17" cy="183.71" r="1.45" fill="#fff"/>
<circle cx="603.17" cy="186.75" r="1.45" fill="#fff"/>
<circle cx="603" cy="190.34" r="1.45" fill="#fff"/>
<circle cx="603" cy="193.98" r="1.45" fill="#fff"/>
<circle cx="603" cy="197.62" r="1.45" fill="#fff"/>
<circle cx="603" cy="201.26" r="1.45" fill="#fff"/>
<circle cx="603" cy="204.9" r="1.45" fill="#fff"/>
<circle cx="603.12" cy="208.54" r="1.45" fill="#fff"/>
<circle cx="603.96" cy="212.06" r="1.45" fill="#fff"/>
<circle cx="605.57" cy="215.32" r="1.45" fill="#fff"/>
<circle cx="607.83" cy="218.16" r="1.45" fill="#fff"/>
<circle cx="610.48" cy="220.65" r="1.45" fill="#fff"/>
<circle cx="613.46" cy="222.73" r="1.45" fill="#fff"/>
<circle cx="616.65" cy="224.48" r="1.45" fill="#fff"/>
<circle cx="620" cy="225.91" r="1.45" fill="#fff"/>
<circle cx="623.47" cy="227" r="1.45" fill="#fff"/>
<circle cx="627.02" cy="227.79" r="1.45" fill="#fff"/>
<circle cx="630.63" cy="228.28" r="1.45" fill="#fff"/>
<circle cx="634.26" cy="228.48" r="1.45" fill="#fff"/>
<circle cx="637.9" cy="228.38" r="1.45" fill="#fff"/>
<circle cx="641.51" cy="227.94" r="1.45" fill="#fff"/>
<circle cx="645.07" cy="227.21" r="1.45" fill="#fff"/>
<circle cx="648.56" cy="226.18" r="1.45" fill="#fff"/>
<circle cx="651.95" cy="224.85" r="1.45" fill="#fff"/>
<circle cx="655.17" cy="223.14" r="1.45" fill="#fff"/>
<circle cx="658.19" cy="221.12" r="1.45" fill="#fff"/>
<circle cx="660.92" cy="218.72" r="1.45" fill="#fff"/>
<circle cx="663.23" cy="215.92" r="1.45" fill="#fff"/>
<circle cx="664.98" cy="212.74" r="1.45" fill="#fff"/>
<circle cx="666.02" cy="209.26" r="1.45" fill="#fff"/>
<circle cx="666.2" cy="205.63" r="1.45" fill="#fff"/>
<circle cx="666.2" cy="201.98" r="1.45" fill="#fff"/>
<circle cx="666.2" cy="198.34" r="1.45" fill="#fff"/>
<circle cx="666.2" cy="194.7" r="1.45" fill="#fff"/>
<circle cx="666.2" cy="191.06" r="1.45" fill="#fff"/>
<circle cx="666.2" cy="187.42" r="1.45" fill="#fff"/>
<circle cx="665.2" cy="183.94" r="1.45" fill="#fff"/>
<circle cx="664.2" cy="180.44" r="1.45" fill="#fff"/>
<circle cx="534.5" cy="288.7" r="1.3" fill="#fff"/>
<circle cx="541.5" cy="288.7" r="1.3" fill="#fff"/>
<circle cx="548.5" cy="288.7" r="1.3" fill="#fff"/>
<circle cx="555.5" cy="288.7" r="1.3" fill="#fff"/>
<circle cx="562.5" cy="288.7" r="1.3" fill="#fff"/>
<circle cx="569.5" cy="288.7" r="1.3" fill="#fff"/>
<circle cx="576.5" cy="288.7" r="1.3" fill="#fff"/>
<circle cx="583.5" cy="288.7" r="1.3" fill="#fff"/>
<circle cx="590.5" cy="288.7" r="1.3" fill="#fff"/>
<circle cx="597.5" cy="288.7" r="1.3" fill="#fff"/>
<circle cx="604.5" cy="288.7" r="1.3" fill="#fff"/>
<circle cx="611.5" cy="288.7" r="1.3" fill="#fff"/>
<circle cx="618.5" cy="288.7" r="1.3" fill="#fff"/>
<circle cx="625.5" cy="288.7" r="1.3" fill="#fff"/>
<circle cx="632.5" cy="288.7" r="1.3" fill="#fff"/>
<circle cx="639.5" cy="288.7" r="1.3" fill="#fff"/>
<circle cx="646.5" cy="288.7" r="1.3" fill="#fff"/>
<circle cx="653.5" cy="288.7" r="1.3" fill="#fff"/>
<circle cx="660.5" cy="288.7" r="1.3" fill="#fff"/>
<circle cx="667.5" cy="288.7" r="1.3" fill="#fff"/>
</g>
<path d="M566.3 229 L575.8 251 L637 227.6" stroke="#111" stroke-width="0.9" fill="none" stroke-dasharray="1.8 1.1"/>
<path d="M569.5 229 L578.9 242.8 L603.5 222" stroke="#111" stroke-width="0.9" fill="none" stroke-dasharray="1.8 1.1"/>
<path d="M577.7 229 L589.6 251.6 L648.4 227.6" stroke="#111" stroke-width="0.9" fill="none" stroke-dasharray="1.8 1.1"/>
<path d="M637 227.6 L644.6 243.4 L661.7 216.3" stroke="#111" stroke-width="0.9" fill="none" stroke-dasharray="1.8 1.1"/>
<path d="M648.4 227.6 L656 242.1 L669.2 227.6" stroke="#111" stroke-width="0.9" fill="none" stroke-dasharray="1.8 1.1"/>
<line x1="566.6" y1="227" x2="566.6" y2="171.3" stroke="#111" stroke-width="0.8"/><path d="M566.6 171.3 L567.62 173.58 L565.58 173.58 Z" fill="#111"/>
<line x1="566.6" y1="227" x2="586.5" y2="178" stroke="#111" stroke-width="0.8"/><path d="M586.5 178 L586.59 180.5 L584.7 179.73 Z" fill="#111"/>
<line x1="566.6" y1="227" x2="598.7" y2="200" stroke="#111" stroke-width="0.8"/>
<line x1="598.7" y1="200" x2="575.5" y2="180" stroke="#111" stroke-width="0.8"/><path d="M575.5 180 L577.89 180.72 L576.56 182.26 Z" fill="#111"/>
<line x1="577.5" y1="228" x2="596.5" y2="206.7" stroke="#111" stroke-width="0.8"/><path d="M596.5 206.7 L595.74 209.08 L594.22 207.72 Z" fill="#111"/>
<line x1="577.5" y1="227" x2="582" y2="178" stroke="#111" stroke-width="0.8"/><path d="M582 178 L582.81 180.37 L580.78 180.18 Z" fill="#111"/>
<line x1="607.5" y1="219" x2="605" y2="190" stroke="#111" stroke-width="0.8"/><path d="M605 190 L606.21 192.19 L604.18 192.36 Z" fill="#111"/>
<line x1="617.5" y1="225.5" x2="612.4" y2="187.9" stroke="#111" stroke-width="0.8"/><path d="M612.4 187.9 L613.72 190.02 L611.7 190.3 Z" fill="#111"/>
<line x1="599" y1="222.5" x2="666" y2="194.5" stroke="#111" stroke-width="0.8"/><path d="M666 194.5 L664.29 196.32 L663.5 194.44 Z" fill="#111"/>
<line x1="599" y1="209" x2="663.9" y2="174.6" stroke="#111" stroke-width="0.8"/><path d="M663.9 174.6 L662.36 176.57 L661.41 174.77 Z" fill="#111"/>
<line x1="637" y1="227.6" x2="660.3" y2="171.5" stroke="#111" stroke-width="0.8"/><path d="M660.3 171.5 L660.37 174 L658.48 173.22 Z" fill="#111"/>
<line x1="666" y1="194.5" x2="642.1" y2="179.1" stroke="#111" stroke-width="0.8"/><path d="M642.1 179.1 L644.57 179.48 L643.47 181.19 Z" fill="#111"/>
<line x1="648.4" y1="227.6" x2="661.3" y2="215.5" stroke="#111" stroke-width="0.8"/>
<line x1="661.3" y1="215.5" x2="652.2" y2="177.1" stroke="#111" stroke-width="0.8"/><path d="M652.2 177.1 L653.72 179.09 L651.73 179.56 Z" fill="#111"/>
<line x1="541.7" y1="170.5" x2="564.47" y2="224.19" stroke="#c8070a" stroke-width="1.6"/>
<path d="M566 227.8 L561.79 224.11 L566.27 222.21 Z" fill="#c8070a"/>
<line x1="552.8" y1="170.5" x2="576.35" y2="225.4" stroke="#c8070a" stroke-width="1.6"/>
<path d="M577.9 229 L573.67 225.33 L578.15 223.41 Z" fill="#c8070a"/>
<line x1="614.9" y1="172" x2="635.08" y2="223.85" stroke="#c8070a" stroke-width="1.6"/>
<path d="M636.5 227.5 L632.4 223.68 L636.94 221.92 Z" fill="#c8070a"/>
<line x1="624.8" y1="172" x2="646.98" y2="224.89" stroke="#c8070a" stroke-width="1.6"/>
<path d="M648.5 228.5 L644.3 224.79 L648.8 222.91 Z" fill="#c8070a"/>
<text x="573.8" y="302" font-size="8.3" fill="#222">PMMA<tspan font-size="5.6" dx="1.2" dy="1.6">HPA</tspan><tspan dy="-1.6"> film</tspan></text></svg>
</body></html>
